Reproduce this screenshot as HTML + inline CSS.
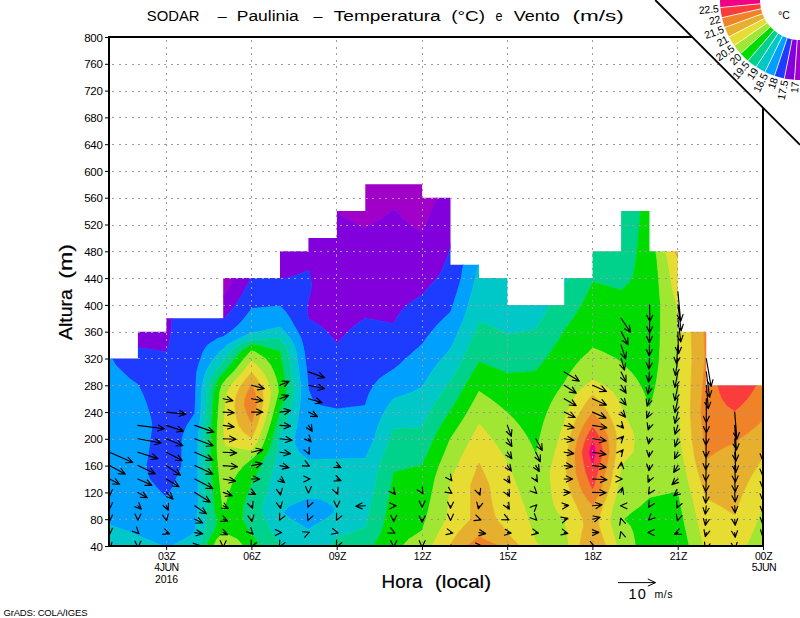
<!DOCTYPE html>
<html><head><meta charset="utf-8"><title>SODAR</title>
<style>
html,body{margin:0;padding:0;background:#fff;}
body{width:800px;height:618px;overflow:hidden;}
svg{display:block;}
text{font-family:"Liberation Sans",sans-serif;fill:#000;}
</style></head><body>
<svg width="800" height="618" viewBox="0 0 800 618">
<rect width="800" height="618" fill="#fff"/>
<defs><clipPath id="m"><path d="M109.5 546.0L109.5 358.5L137.9 358.5L137.9 331.7L166.3 331.7L166.3 318.3L194.8 318.3L194.8 318.3L223.2 318.3L223.2 278.1L251.6 278.1L251.6 278.1L280.0 278.1L280.0 251.3L308.4 251.3L308.4 237.9L336.9 237.9L336.9 211.1L365.3 211.1L365.3 184.3L393.7 184.3L393.7 184.3L422.1 184.3L422.1 197.7L450.5 197.7L450.5 264.7L479.0 264.7L479.0 278.1L507.4 278.1L507.4 304.9L535.8 304.9L535.8 304.9L564.2 304.9L564.2 278.1L592.6 278.1L592.6 251.3L621.1 251.3L621.1 211.1L649.5 211.1L649.5 251.3L677.9 251.3L677.9 331.7L706.3 331.7L706.3 385.3L734.7 385.3L734.7 385.3L763.2 385.3L763.2 546.0Z"/></clipPath>
<clipPath id="pl"><rect x="109" y="37" width="654" height="509"/></clipPath></defs>
<g clip-path="url(#m)">
<path d="M223.2 296.7L226.6 291.5L230.7 284.8L234.6 278.1L234.6 271.4L234.6 264.7L234.6 258.0L234.6 251.3L234.6 244.6L234.6 237.9L234.6 231.2L234.6 224.5L234.6 217.8L234.6 211.1L234.6 204.4L234.6 197.7L234.6 191.0L234.6 184.3L234.6 177.6L234.6 170.9L223.2 170.9L215.2 170.9L215.2 177.6L215.2 184.3L215.2 191.0L215.2 197.7L215.2 204.4L215.2 211.1L215.2 217.8L215.2 224.5L215.2 231.2L215.2 237.9L215.2 244.6L215.2 251.3L215.2 258.0L215.2 264.7L215.2 271.4L215.2 278.1L217.5 284.8L220.3 291.5ZM422.1 232.3L422.7 231.2L425.5 224.5L428.4 217.8L431.2 211.1L434.1 204.4L436.9 197.7L438.1 191.0L439.2 184.3L439.2 177.6L439.2 170.9L422.1 170.9L393.7 170.9L365.3 170.9L336.9 170.9L336.9 170.9L336.9 177.6L336.9 184.3L336.9 191.0L336.9 197.7L336.9 204.4L336.9 211.1L336.9 211.1L344.7 217.8L357.6 224.5L365.3 227.6L371.3 224.5L382.9 217.8L391.1 211.1L393.7 209.4L396.0 211.1L402.4 217.8L410.2 224.5L419.9 231.2Z" fill="#a000c8" stroke="#a000c8" stroke-width="0.7" fill-rule="evenodd"/>
<path d="M166.3 352.2L166.6 351.8L168.8 345.1L170.2 338.4L171.1 331.7L171.6 325.0L172.0 318.3L172.0 311.6L172.0 304.9L172.0 298.2L172.0 291.5L172.0 284.8L172.0 278.1L172.0 271.4L172.0 264.7L172.0 258.0L172.0 251.3L172.0 244.6L172.0 237.9L172.0 231.2L172.0 224.5L172.0 217.8L172.0 211.1L172.0 204.4L172.0 197.7L172.0 191.0L172.0 184.3L172.0 177.6L172.0 170.9L166.3 170.9L137.9 170.9L130.0 170.9L130.0 177.6L130.0 184.3L130.0 191.0L130.0 197.7L130.0 204.4L130.0 211.1L130.0 217.8L130.0 224.5L130.0 231.2L130.0 237.9L130.0 244.6L130.0 251.3L130.0 258.0L130.0 264.7L130.0 271.4L130.0 278.1L130.0 284.8L130.0 291.5L130.0 298.2L130.0 304.9L130.0 311.6L130.0 318.3L130.0 325.0L130.0 331.7L132.5 338.4L135.6 345.1L137.9 347.5L165.7 351.8ZM336.9 343.8L341.5 338.4L347.7 331.7L355.5 325.0L365.3 318.3L393.7 323.5L396.6 318.3L400.8 311.6L407.0 304.9L416.6 298.2L422.1 295.1L425.1 291.5L430.8 284.8L437.3 278.1L441.2 271.4L444.3 264.7L446.9 258.0L449.2 251.3L450.5 247.4L450.9 244.6L452.0 237.9L453.0 231.2L453.9 224.5L454.7 217.8L455.5 211.1L456.3 204.4L457.0 197.7L457.0 191.0L457.0 184.3L457.0 177.6L457.0 170.9L450.5 170.9L439.2 170.9L439.2 177.6L439.2 184.3L438.1 191.0L436.9 197.7L434.1 204.4L431.2 211.1L428.4 217.8L425.5 224.5L422.7 231.2L422.1 232.3L419.9 231.2L410.2 224.5L402.4 217.8L396.0 211.1L393.7 209.4L391.1 211.1L382.9 217.8L371.3 224.5L365.3 227.6L357.6 224.5L344.7 217.8L336.9 211.1L336.9 211.1L336.9 204.4L336.9 197.7L336.9 191.0L336.9 184.3L336.9 177.6L336.9 170.9L308.4 170.9L280.0 170.9L253.4 170.9L253.4 177.6L253.4 184.3L253.4 191.0L253.4 197.7L253.4 204.4L253.4 211.1L253.4 217.8L253.4 224.5L253.4 231.2L253.4 237.9L253.4 244.6L253.4 251.3L253.9 258.0L254.9 264.7L257.3 271.4L272.4 278.1L280.0 278.5L288.1 278.1L306.2 271.4L308.4 270.1L309.1 271.4L310.4 278.1L311.8 284.8L310.7 291.5L309.1 298.2L308.4 299.6L307.6 304.9L307.4 311.6L308.4 318.3L308.4 318.6L319.2 325.0L327.3 331.7L333.0 338.4ZM223.2 319.9L224.9 318.3L230.3 311.6L235.4 304.9L239.8 298.2L243.8 291.5L247.4 284.8L250.9 278.1L250.9 271.4L250.9 264.7L250.9 258.0L250.9 251.3L250.9 244.6L250.9 237.9L250.9 231.2L250.9 224.5L250.9 217.8L250.9 211.1L250.9 204.4L250.9 197.7L250.9 191.0L250.9 184.3L250.9 177.6L250.9 170.9L234.6 170.9L234.6 177.6L234.6 184.3L234.6 191.0L234.6 197.7L234.6 204.4L234.6 211.1L234.6 217.8L234.6 224.5L234.6 231.2L234.6 237.9L234.6 244.6L234.6 251.3L234.6 258.0L234.6 264.7L234.6 271.4L234.6 278.1L230.7 284.8L226.6 291.5L223.2 296.7L220.3 291.5L217.5 284.8L215.2 278.1L215.2 271.4L215.2 264.7L215.2 258.0L215.2 251.3L215.2 244.6L215.2 237.9L215.2 231.2L215.2 224.5L215.2 217.8L215.2 211.1L215.2 204.4L215.2 197.7L215.2 191.0L215.2 184.3L215.2 177.6L215.2 170.9L203.9 170.9L203.9 177.6L203.9 184.3L203.9 191.0L203.9 197.7L203.9 204.4L203.9 211.1L203.9 217.8L203.9 224.5L203.9 231.2L203.9 237.9L203.9 244.6L203.9 251.3L203.9 258.0L203.9 264.7L203.9 271.4L203.9 278.1L204.9 284.8L206.1 291.5L207.8 298.2L210.4 304.9L214.2 311.6L220.4 318.3Z" fill="#8200dc" stroke="#8200dc" stroke-width="0.7" fill-rule="evenodd"/>
<path d="M166.3 497.4L169.8 492.4L173.2 485.7L176.1 479.0L179.4 472.3L181.8 465.6L181.8 458.9L181.9 452.2L181.9 445.5L182.0 438.8L184.2 432.1L187.1 425.4L191.4 418.8L194.8 413.5L194.9 412.1L195.2 405.4L195.6 398.7L195.7 392.0L195.9 385.3L196.2 378.6L196.8 371.9L198.5 365.2L200.8 358.5L203.1 351.8L207.5 345.1L217.7 338.4L223.2 336.7L230.7 331.7L238.3 325.0L244.4 318.3L249.6 311.6L251.6 308.5L280.0 306.0L285.4 311.6L290.0 318.3L293.7 325.0L297.7 331.7L301.0 338.4L302.9 345.1L304.3 351.8L305.1 358.5L306.0 365.2L306.8 371.9L307.5 378.6L308.3 385.3L308.4 389.7L309.5 392.0L312.1 398.7L320.0 405.4L336.9 409.0L365.3 405.4L365.3 405.4L367.3 398.7L370.0 392.0L373.8 385.3L379.6 378.6L389.3 371.9L393.7 369.2L398.7 365.2L406.0 358.5L413.5 351.8L421.3 345.1L422.1 344.3L426.3 338.4L431.5 331.7L437.3 325.0L443.9 318.3L450.5 312.2L450.8 311.6L453.0 304.9L455.2 298.2L457.3 291.5L459.3 284.8L461.2 278.1L462.3 271.4L463.4 264.7L463.8 258.0L464.2 251.3L464.6 244.6L465.2 237.9L465.7 231.2L466.2 224.5L466.6 217.8L467.0 211.1L467.4 204.4L467.8 197.7L467.8 191.0L467.8 184.3L467.8 177.6L467.8 170.9L457.0 170.9L457.0 177.6L457.0 184.3L457.0 191.0L457.0 197.7L456.3 204.4L455.5 211.1L454.7 217.8L453.9 224.5L453.0 231.2L452.0 237.9L450.9 244.6L450.5 247.4L449.2 251.3L446.9 258.0L444.3 264.7L441.2 271.4L437.3 278.1L430.8 284.8L425.1 291.5L422.1 295.1L416.6 298.2L407.0 304.9L400.8 311.6L396.6 318.3L393.7 323.5L365.3 318.3L355.5 325.0L347.7 331.7L341.5 338.4L336.9 343.8L333.0 338.4L327.3 331.7L319.2 325.0L308.4 318.6L308.4 318.3L307.4 311.6L307.6 304.9L308.4 299.6L309.1 298.2L310.7 291.5L311.8 284.8L310.4 278.1L309.1 271.4L308.4 270.1L306.2 271.4L288.1 278.1L280.0 278.5L272.4 278.1L257.3 271.4L254.9 264.7L253.9 258.0L253.4 251.3L253.4 244.6L253.4 237.9L253.4 231.2L253.4 224.5L253.4 217.8L253.4 211.1L253.4 204.4L253.4 197.7L253.4 191.0L253.4 184.3L253.4 177.6L253.4 170.9L251.6 170.9L250.9 170.9L250.9 177.6L250.9 184.3L250.9 191.0L250.9 197.7L250.9 204.4L250.9 211.1L250.9 217.8L250.9 224.5L250.9 231.2L250.9 237.9L250.9 244.6L250.9 251.3L250.9 258.0L250.9 264.7L250.9 271.4L250.9 278.1L247.4 284.8L243.8 291.5L239.8 298.2L235.4 304.9L230.3 311.6L224.9 318.3L223.2 319.9L220.4 318.3L214.2 311.6L210.4 304.9L207.8 298.2L206.1 291.5L204.9 284.8L203.9 278.1L203.9 271.4L203.9 264.7L203.9 258.0L203.9 251.3L203.9 244.6L203.9 237.9L203.9 231.2L203.9 224.5L203.9 217.8L203.9 211.1L203.9 204.4L203.9 197.7L203.9 191.0L203.9 184.3L203.9 177.6L203.9 170.9L194.8 170.9L172.0 170.9L172.0 177.6L172.0 184.3L172.0 191.0L172.0 197.7L172.0 204.4L172.0 211.1L172.0 217.8L172.0 224.5L172.0 231.2L172.0 237.9L172.0 244.6L172.0 251.3L172.0 258.0L172.0 264.7L172.0 271.4L172.0 278.1L172.0 284.8L172.0 291.5L172.0 298.2L172.0 304.9L172.0 311.6L172.0 318.3L171.6 325.0L171.1 331.7L170.2 338.4L168.8 345.1L166.6 351.8L166.3 352.2L165.7 351.8L137.9 347.5L135.6 345.1L132.5 338.4L130.0 331.7L130.0 325.0L130.0 318.3L130.0 311.6L130.0 304.9L130.0 298.2L130.0 291.5L130.0 284.8L130.0 278.1L130.0 271.4L130.0 264.7L130.0 258.0L130.0 251.3L130.0 244.6L130.0 237.9L130.0 231.2L130.0 224.5L130.0 217.8L130.0 211.1L130.0 204.4L130.0 197.7L130.0 191.0L130.0 184.3L130.0 177.6L130.0 170.9L110.3 170.9L110.3 177.6L110.3 184.3L110.3 191.0L110.3 197.7L110.3 204.4L110.3 211.1L110.3 217.8L110.3 224.5L110.3 231.2L110.3 237.9L110.3 244.6L110.3 251.3L110.3 258.0L110.3 264.7L110.3 271.4L110.3 278.1L110.3 284.8L110.3 291.5L110.3 298.2L110.3 304.9L110.3 311.6L110.3 318.3L110.3 325.0L110.3 331.7L110.4 338.4L110.5 345.1L110.8 351.8L111.9 358.5L115.6 365.2L122.4 371.9L129.4 378.6L137.9 384.4L138.3 385.3L141.7 392.0L144.6 398.7L147.0 405.4L149.1 412.1L150.9 418.8L152.0 425.4L151.2 432.1L150.4 438.8L149.5 445.5L148.5 452.2L147.4 458.9L146.1 465.6L147.4 472.3L149.6 479.0L155.1 485.7L161.3 492.4Z" fill="#1e3cff" stroke="#1e3cff" stroke-width="0.7" fill-rule="evenodd"/>
<path d="M166.3 546.0L171.1 546.0L184.4 539.3L194.8 532.6L194.8 532.6L195.8 525.9L196.8 519.2L197.4 512.5L198.0 505.8L198.0 499.1L198.0 492.4L198.0 485.7L197.9 479.0L197.9 472.3L197.9 465.6L197.9 458.9L197.9 452.2L197.9 445.5L197.9 438.8L198.7 432.1L199.4 425.4L200.2 418.8L200.8 412.1L201.1 405.4L201.5 398.7L201.7 392.0L202.4 385.3L203.7 378.6L205.9 371.9L209.3 365.2L213.8 358.5L219.8 351.8L223.2 349.2L227.1 345.1L239.4 338.4L251.6 332.6L258.4 331.7L280.0 327.1L284.4 331.7L290.5 338.4L294.0 345.1L296.3 351.8L297.2 358.5L298.1 365.2L299.0 371.9L299.9 378.6L300.7 385.3L301.0 392.0L300.4 398.7L299.7 405.4L298.9 412.1L298.0 418.8L296.9 425.4L295.4 432.1L294.0 438.8L295.2 445.5L298.9 452.2L307.1 458.9L308.4 460.0L336.4 458.9L336.9 458.9L365.3 458.3L368.1 452.2L371.4 445.5L374.5 438.8L376.2 432.1L378.2 425.4L381.0 418.8L384.3 412.1L388.4 405.4L393.7 398.7L393.7 398.7L412.7 392.0L422.1 387.2L423.2 385.3L427.3 378.6L431.7 371.9L436.5 365.2L441.9 358.5L447.9 351.8L450.5 348.9L452.4 345.1L455.4 338.4L458.4 331.7L461.3 325.0L464.0 318.3L466.2 311.6L468.2 304.9L470.1 298.2L471.9 291.5L473.6 284.8L475.3 278.1L476.8 271.4L478.4 264.7L478.4 258.0L478.4 251.3L478.4 244.6L478.4 237.9L478.5 231.2L478.5 224.5L478.5 217.8L478.5 211.1L478.5 204.4L478.5 197.7L478.5 191.0L478.5 184.3L478.5 177.6L478.5 170.9L467.8 170.9L467.8 177.6L467.8 184.3L467.8 191.0L467.8 197.7L467.4 204.4L467.0 211.1L466.6 217.8L466.2 224.5L465.7 231.2L465.2 237.9L464.6 244.6L464.2 251.3L463.8 258.0L463.4 264.7L462.3 271.4L461.2 278.1L459.3 284.8L457.3 291.5L455.2 298.2L453.0 304.9L450.8 311.6L450.5 312.2L443.9 318.3L437.3 325.0L431.5 331.7L426.3 338.4L422.1 344.3L421.3 345.1L413.5 351.8L406.0 358.5L398.7 365.2L393.7 369.2L389.3 371.9L379.6 378.6L373.8 385.3L370.0 392.0L367.3 398.7L365.3 405.4L365.3 405.4L336.9 409.0L320.0 405.4L312.1 398.7L309.5 392.0L308.4 389.7L308.3 385.3L307.5 378.6L306.8 371.9L306.0 365.2L305.1 358.5L304.3 351.8L302.9 345.1L301.0 338.4L297.7 331.7L293.7 325.0L290.0 318.3L285.4 311.6L280.0 306.0L251.6 308.5L249.6 311.6L244.4 318.3L238.3 325.0L230.7 331.7L223.2 336.7L217.7 338.4L207.5 345.1L203.1 351.8L200.8 358.5L198.5 365.2L196.8 371.9L196.2 378.6L195.9 385.3L195.7 392.0L195.6 398.7L195.2 405.4L194.9 412.1L194.8 413.5L191.4 418.8L187.1 425.4L184.2 432.1L182.0 438.8L181.9 445.5L181.9 452.2L181.8 458.9L181.8 465.6L179.4 472.3L176.1 479.0L173.2 485.7L169.8 492.4L166.3 497.4L161.3 492.4L155.1 485.7L149.6 479.0L147.4 472.3L146.1 465.6L147.4 458.9L148.5 452.2L149.5 445.5L150.4 438.8L151.2 432.1L152.0 425.4L150.9 418.8L149.1 412.1L147.0 405.4L144.6 398.7L141.7 392.0L138.3 385.3L137.9 384.4L129.4 378.6L122.4 371.9L115.6 365.2L111.9 358.5L110.8 351.8L110.5 345.1L110.4 338.4L110.3 331.7L110.3 325.0L110.3 318.3L110.3 311.6L110.3 304.9L110.3 298.2L110.3 291.5L110.3 284.8L110.3 278.1L110.3 271.4L110.3 264.7L110.3 258.0L110.3 251.3L110.3 244.6L110.3 237.9L110.3 231.2L110.3 224.5L110.3 217.8L110.3 211.1L110.3 204.4L110.3 197.7L110.3 191.0L110.3 184.3L110.3 177.6L110.3 170.9L109.5 170.9L109.5 177.6L109.5 184.3L109.5 191.0L109.5 197.7L109.5 204.4L109.5 211.1L109.5 217.8L109.5 224.5L109.5 231.2L109.5 237.9L109.5 244.6L109.5 251.3L109.5 258.0L109.5 264.7L109.5 271.4L109.5 278.1L109.5 284.8L109.5 291.5L109.5 298.2L109.5 304.9L109.5 311.6L109.5 318.3L109.5 325.0L109.5 331.7L109.5 338.4L109.5 345.1L109.5 351.8L109.5 358.5L109.5 365.2L109.5 371.9L109.5 378.6L109.5 385.3L109.5 392.0L109.5 398.7L109.5 405.4L109.5 412.1L109.5 418.8L109.5 425.4L109.5 432.1L109.5 438.8L109.5 445.5L109.5 452.2L109.5 458.9L109.5 465.6L109.5 472.3L109.5 479.0L109.5 485.7L109.5 492.4L109.5 499.1L109.5 505.8L109.5 512.5L109.5 519.2L109.5 523.8L112.2 525.9L131.0 532.6L137.9 535.4L146.9 539.3L162.8 546.0ZM308.4 529.8L313.4 525.9L325.4 519.2L334.7 512.5L333.4 505.8L320.7 499.1L308.4 498.3L305.4 499.1L289.4 505.8L283.0 512.5L291.2 519.2L302.6 525.9Z" fill="#00a0ff" stroke="#00a0ff" stroke-width="0.7" fill-rule="evenodd"/>
<path d="M137.9 546.0L162.8 546.0L146.9 539.3L137.9 535.4L131.0 532.6L112.2 525.9L109.5 523.8L109.5 525.9L109.5 532.6L109.5 539.3L109.5 546.0ZM194.8 546.0L200.2 546.0L201.6 539.3L204.2 532.6L206.0 525.9L206.8 519.2L206.2 512.5L206.2 505.8L205.9 499.1L205.6 492.4L205.4 485.7L205.1 479.0L204.9 472.3L204.7 465.6L204.5 458.9L204.3 452.2L204.3 445.5L204.3 438.8L204.9 432.1L205.4 425.4L206.1 418.8L206.6 412.1L207.0 405.4L207.4 398.7L207.8 392.0L208.9 385.3L211.1 378.6L215.1 371.9L220.2 365.2L223.2 361.9L225.8 358.5L230.9 351.8L238.7 345.1L251.6 339.9L280.0 338.4L285.0 345.1L288.3 351.8L289.3 358.5L290.3 365.2L291.3 371.9L292.3 378.6L293.2 385.3L293.5 392.0L292.2 398.7L290.7 405.4L288.9 412.1L286.9 418.8L284.4 425.4L281.2 432.1L280.0 434.8L279.2 438.8L277.7 445.5L276.8 452.2L275.0 458.9L273.7 465.6L272.0 472.3L270.0 479.0L268.0 485.7L266.3 492.4L264.5 499.1L262.5 505.8L262.4 512.5L265.0 519.2L268.4 525.9L272.2 532.6L276.8 539.3L280.0 544.1L282.6 546.0L308.4 546.0L329.8 546.0L334.9 539.3L336.9 537.7L351.8 532.6L365.3 527.2L365.9 525.9L367.5 519.2L369.1 512.5L370.6 505.8L372.1 499.1L373.5 492.4L375.0 485.7L376.4 479.0L377.8 472.3L379.8 465.6L381.9 458.9L384.7 452.2L387.4 445.5L390.0 438.8L392.2 432.1L393.7 428.8L422.1 428.0L423.3 425.4L426.4 418.8L429.9 412.1L433.6 405.4L437.7 398.7L442.3 392.0L447.3 385.3L450.5 381.1L452.0 378.6L455.7 371.9L459.5 365.2L463.1 358.5L466.3 351.8L469.3 345.1L472.2 338.4L475.1 331.7L477.9 325.0L479.0 321.6L489.3 325.0L502.5 331.7L507.4 334.8L521.5 331.7L535.8 329.4L538.5 325.0L542.4 318.3L546.4 311.6L550.3 304.9L552.7 298.2L555.9 291.5L560.8 284.8L564.2 283.6L571.1 278.1L571.6 271.4L572.2 264.7L572.9 258.0L573.7 251.3L573.7 244.6L573.7 237.9L573.7 231.2L573.7 224.5L573.7 217.8L573.7 211.1L573.7 204.4L573.7 197.7L573.7 191.0L573.7 184.3L573.7 177.6L573.7 170.9L564.2 170.9L535.8 170.9L507.4 170.9L479.0 170.9L478.5 170.9L478.5 177.6L478.5 184.3L478.5 191.0L478.5 197.7L478.5 204.4L478.5 211.1L478.5 217.8L478.5 224.5L478.5 231.2L478.4 237.9L478.4 244.6L478.4 251.3L478.4 258.0L478.4 264.7L476.8 271.4L475.3 278.1L473.6 284.8L471.9 291.5L470.1 298.2L468.2 304.9L466.2 311.6L464.0 318.3L461.3 325.0L458.4 331.7L455.4 338.4L452.4 345.1L450.5 348.9L447.9 351.8L441.9 358.5L436.5 365.2L431.7 371.9L427.3 378.6L423.2 385.3L422.1 387.2L412.7 392.0L393.7 398.7L393.7 398.7L388.4 405.4L384.3 412.1L381.0 418.8L378.2 425.4L376.2 432.1L374.5 438.8L371.4 445.5L368.1 452.2L365.3 458.3L336.9 458.9L336.4 458.9L308.4 460.0L307.1 458.9L298.9 452.2L295.2 445.5L294.0 438.8L295.4 432.1L296.9 425.4L298.0 418.8L298.9 412.1L299.7 405.4L300.4 398.7L301.0 392.0L300.7 385.3L299.9 378.6L299.0 371.9L298.1 365.2L297.2 358.5L296.3 351.8L294.0 345.1L290.5 338.4L284.4 331.7L280.0 327.1L258.4 331.7L251.6 332.6L239.4 338.4L227.1 345.1L223.2 349.2L219.8 351.8L213.8 358.5L209.3 365.2L205.9 371.9L203.7 378.6L202.4 385.3L201.7 392.0L201.5 398.7L201.1 405.4L200.8 412.1L200.2 418.8L199.4 425.4L198.7 432.1L197.9 438.8L197.9 445.5L197.9 452.2L197.9 458.9L197.9 465.6L197.9 472.3L197.9 479.0L198.0 485.7L198.0 492.4L198.0 499.1L198.0 505.8L197.4 512.5L196.8 519.2L195.8 525.9L194.8 532.6L194.8 532.6L184.4 539.3L171.1 546.0ZM302.6 525.9L291.2 519.2L283.0 512.5L289.4 505.8L305.4 499.1L308.4 498.3L320.7 499.1L333.4 505.8L334.7 512.5L325.4 519.2L313.4 525.9L308.4 529.8Z" fill="#00c8c8" stroke="#00c8c8" stroke-width="0.7" fill-rule="evenodd"/>
<path d="M209.2 539.3L213.7 532.6L216.2 525.9L216.9 519.2L215.0 512.5L214.3 505.8L213.8 499.1L213.3 492.4L212.8 485.7L212.3 479.0L211.9 472.3L211.5 465.6L211.1 458.9L210.7 452.2L210.7 445.5L210.7 438.8L211.1 432.1L211.4 425.4L212.0 418.8L212.5 412.1L212.8 405.4L213.4 398.7L213.8 392.0L215.4 385.3L218.6 378.6L223.2 373.0L224.3 371.9L229.9 365.2L235.1 358.5L240.6 351.8L250.3 345.1L251.6 344.6L257.3 345.1L280.0 351.4L280.2 351.8L281.4 358.5L282.5 365.2L283.6 371.9L284.6 378.6L285.6 385.3L286.0 392.0L284.0 398.7L281.7 405.4L280.0 409.6L279.4 412.1L277.7 418.8L275.9 425.4L274.0 432.1L272.2 438.8L270.1 445.5L267.9 452.2L263.3 458.9L260.8 465.6L257.7 472.3L253.9 479.0L251.6 483.6L250.4 485.7L247.9 492.4L245.6 499.1L243.3 505.8L242.8 512.5L242.5 519.2L246.1 525.9L250.5 532.6L251.6 533.9L255.2 539.3L260.1 546.0L280.0 546.0L282.6 546.0L280.0 544.1L276.8 539.3L272.2 532.6L268.4 525.9L265.0 519.2L262.4 512.5L262.5 505.8L264.5 499.1L266.3 492.4L268.0 485.7L270.0 479.0L272.0 472.3L273.7 465.6L275.0 458.9L276.8 452.2L277.7 445.5L279.2 438.8L280.0 434.8L281.2 432.1L284.4 425.4L286.9 418.8L288.9 412.1L290.7 405.4L292.2 398.7L293.5 392.0L293.2 385.3L292.3 378.6L291.3 371.9L290.3 365.2L289.3 358.5L288.3 351.8L285.0 345.1L280.0 338.4L251.6 339.9L238.7 345.1L230.9 351.8L225.8 358.5L223.2 361.9L220.2 365.2L215.1 371.9L211.1 378.6L208.9 385.3L207.8 392.0L207.4 398.7L207.0 405.4L206.6 412.1L206.1 418.8L205.4 425.4L204.9 432.1L204.3 438.8L204.3 445.5L204.3 452.2L204.5 458.9L204.7 465.6L204.9 472.3L205.1 479.0L205.4 485.7L205.6 492.4L205.9 499.1L206.2 505.8L206.2 512.5L206.8 519.2L206.0 525.9L204.2 532.6L201.6 539.3L200.2 546.0L206.9 546.0ZM336.9 546.0L365.3 546.0L373.0 546.0L377.7 539.3L381.2 532.6L383.4 525.9L384.7 519.2L386.1 512.5L387.5 505.8L388.8 499.1L390.1 492.4L391.3 485.7L392.5 479.0L393.7 472.3L393.7 472.3L420.3 465.6L422.1 465.2L424.9 458.9L428.0 452.2L430.9 445.5L433.8 438.8L437.3 432.1L441.0 425.4L445.1 418.8L449.6 412.1L450.5 410.6L453.7 405.4L457.7 398.7L461.5 392.0L465.4 385.3L469.3 378.6L473.2 371.9L477.3 365.2L479.0 361.9L487.5 365.2L504.5 371.9L507.4 373.3L527.2 371.9L535.8 371.1L540.5 365.2L545.9 358.5L550.9 351.8L555.4 345.1L559.6 338.4L563.5 331.7L564.2 330.4L568.4 325.0L573.1 318.3L577.5 311.6L581.4 304.9L585.0 298.2L588.4 291.5L591.5 284.8L592.6 281.9L602.9 284.8L621.1 290.1L627.3 284.8L632.4 278.1L634.1 271.4L635.3 264.7L636.2 258.0L636.8 251.3L637.6 244.6L638.2 237.9L638.8 231.2L639.4 224.5L639.9 217.8L640.4 211.1L640.4 204.4L640.4 197.7L640.4 191.0L640.4 184.3L640.4 177.6L640.4 170.9L621.1 170.9L592.6 170.9L573.7 170.9L573.7 177.6L573.7 184.3L573.7 191.0L573.7 197.7L573.7 204.4L573.7 211.1L573.7 217.8L573.7 224.5L573.7 231.2L573.7 237.9L573.7 244.6L573.7 251.3L572.9 258.0L572.2 264.7L571.6 271.4L571.1 278.1L564.2 283.6L560.8 284.8L555.9 291.5L552.7 298.2L550.3 304.9L546.4 311.6L542.4 318.3L538.5 325.0L535.8 329.4L521.5 331.7L507.4 334.8L502.5 331.7L489.3 325.0L479.0 321.6L477.9 325.0L475.1 331.7L472.2 338.4L469.3 345.1L466.3 351.8L463.1 358.5L459.5 365.2L455.7 371.9L452.0 378.6L450.5 381.1L447.3 385.3L442.3 392.0L437.7 398.7L433.6 405.4L429.9 412.1L426.4 418.8L423.3 425.4L422.1 428.0L393.7 428.8L392.2 432.1L390.0 438.8L387.4 445.5L384.7 452.2L381.9 458.9L379.8 465.6L377.8 472.3L376.4 479.0L375.0 485.7L373.5 492.4L372.1 499.1L370.6 505.8L369.1 512.5L367.5 519.2L365.9 525.9L365.3 527.2L351.8 532.6L336.9 537.7L334.9 539.3L329.8 546.0Z" fill="#00d28c" stroke="#00d28c" stroke-width="0.7" fill-rule="evenodd"/>
<path d="M216.8 539.3L223.2 532.6L237.4 539.3L243.1 546.0L251.6 546.0L260.1 546.0L255.2 539.3L251.6 533.9L250.5 532.6L246.1 525.9L242.5 519.2L242.8 512.5L243.3 505.8L245.6 499.1L247.9 492.4L250.4 485.7L251.6 483.6L253.9 479.0L257.7 472.3L260.8 465.6L263.3 458.9L267.9 452.2L270.1 445.5L272.2 438.8L274.0 432.1L275.9 425.4L277.7 418.8L279.4 412.1L280.0 409.6L281.7 405.4L284.0 398.7L286.0 392.0L285.6 385.3L284.6 378.6L283.6 371.9L282.5 365.2L281.4 358.5L280.2 351.8L280.0 351.4L257.3 345.1L251.6 344.6L250.3 345.1L240.6 351.8L235.1 358.5L229.9 365.2L224.3 371.9L223.2 373.0L218.6 378.6L215.4 385.3L213.8 392.0L213.4 398.7L212.8 405.4L212.5 412.1L212.0 418.8L211.4 425.4L211.1 432.1L210.7 438.8L210.7 445.5L210.7 452.2L211.1 458.9L211.5 465.6L211.9 472.3L212.3 479.0L212.8 485.7L213.3 492.4L213.8 499.1L214.3 505.8L215.0 512.5L216.9 519.2L216.2 525.9L213.7 532.6L209.2 539.3L206.9 546.0L213.7 546.0ZM222.5 505.8L221.7 499.1L220.9 492.4L220.2 485.7L219.5 479.0L218.9 472.3L218.3 465.6L217.7 458.9L217.2 452.2L217.0 445.5L217.1 438.8L217.2 432.1L217.4 425.4L217.9 418.8L218.3 412.1L218.7 405.4L219.3 398.7L219.8 392.0L221.8 385.3L223.2 382.9L226.9 378.6L233.6 371.9L239.0 365.2L244.4 358.5L250.3 351.8L251.6 350.9L254.9 351.8L265.3 358.5L270.6 365.2L273.8 371.9L276.2 378.6L277.8 385.3L278.4 392.0L276.6 398.7L275.0 405.4L273.2 412.1L271.5 418.8L269.6 425.4L267.4 432.1L265.2 438.8L262.5 445.5L259.0 452.2L251.6 458.9L251.6 458.9L243.5 465.6L237.9 472.3L233.7 479.0L231.0 485.7L228.8 492.4L226.8 499.1L224.7 505.8L223.2 509.7ZM393.7 546.0L402.6 546.0L408.7 539.3L419.1 532.6L422.1 530.4L423.6 525.9L425.9 519.2L427.7 512.5L429.3 505.8L430.8 499.1L432.2 492.4L433.5 485.7L434.9 479.0L437.0 472.3L439.3 465.6L442.1 458.9L444.9 452.2L447.6 445.5L450.3 438.8L450.5 438.4L454.9 432.1L459.3 425.4L463.6 418.8L467.6 412.1L471.4 405.4L475.1 398.7L478.6 392.0L479.0 391.4L480.0 392.0L490.0 398.7L498.8 405.4L506.6 412.1L507.4 412.9L513.6 418.8L519.3 425.4L524.1 432.1L528.2 438.8L531.7 445.5L534.7 452.2L535.8 455.0L536.4 452.2L537.9 445.5L539.5 438.8L541.2 432.1L542.9 425.4L544.9 418.8L547.4 412.1L550.2 405.4L553.6 398.7L557.7 392.0L562.5 385.3L564.2 382.8L566.7 378.6L570.8 371.9L575.8 365.2L581.7 358.5L589.1 351.8L592.6 347.9L602.5 351.8L615.9 358.5L621.1 362.4L623.8 365.2L630.9 371.9L636.2 378.6L640.3 385.3L643.6 392.0L646.2 398.7L648.5 405.4L649.5 408.0L650.6 405.4L652.6 398.7L654.2 392.0L655.7 385.3L656.9 378.6L657.8 371.9L658.7 365.2L659.5 358.5L659.7 351.8L660.0 345.1L660.2 338.4L660.4 331.7L660.4 325.0L660.4 318.3L660.5 311.6L660.7 304.9L660.0 298.2L659.5 291.5L659.0 284.8L658.6 278.1L658.0 271.4L657.4 264.7L656.8 258.0L655.8 251.3L655.8 244.6L655.9 237.9L655.9 231.2L655.9 224.5L656.0 217.8L656.0 211.1L656.0 204.4L656.0 197.7L656.0 191.0L656.0 184.3L656.0 177.6L656.0 170.9L649.5 170.9L640.4 170.9L640.4 177.6L640.4 184.3L640.4 191.0L640.4 197.7L640.4 204.4L640.4 211.1L639.9 217.8L639.4 224.5L638.8 231.2L638.2 237.9L637.6 244.6L636.8 251.3L636.2 258.0L635.3 264.7L634.1 271.4L632.4 278.1L627.3 284.8L621.1 290.1L602.9 284.8L592.6 281.9L591.5 284.8L588.4 291.5L585.0 298.2L581.4 304.9L577.5 311.6L573.1 318.3L568.4 325.0L564.2 330.4L563.5 331.7L559.6 338.4L555.4 345.1L550.9 351.8L545.9 358.5L540.5 365.2L535.8 371.1L527.2 371.9L507.4 373.3L504.5 371.9L487.5 365.2L479.0 361.9L477.3 365.2L473.2 371.9L469.3 378.6L465.4 385.3L461.5 392.0L457.7 398.7L453.7 405.4L450.5 410.6L449.6 412.1L445.1 418.8L441.0 425.4L437.3 432.1L433.8 438.8L430.9 445.5L428.0 452.2L424.9 458.9L422.1 465.2L420.3 465.6L393.7 472.3L393.7 472.3L392.5 479.0L391.3 485.7L390.1 492.4L388.8 499.1L387.5 505.8L386.1 512.5L384.7 519.2L383.4 525.9L381.2 532.6L377.7 539.3L373.0 546.0ZM649.5 546.0L677.9 546.0L689.3 546.0L687.8 539.3L686.4 532.6L684.9 525.9L683.6 519.2L682.2 512.5L680.8 505.8L679.5 499.1L678.2 492.4L677.9 491.1L671.9 492.4L649.5 497.4L647.7 499.1L640.6 505.8L631.2 512.5L623.8 519.2L630.3 525.9L633.0 532.6L634.4 539.3L635.3 546.0Z" fill="#00dc00" stroke="#00dc00" stroke-width="0.7" fill-rule="evenodd"/>
<path d="M223.2 541.3L228.9 546.0L243.1 546.0L237.4 539.3L223.2 532.6L216.8 539.3L213.7 546.0L220.5 546.0ZM422.1 546.0L432.1 546.0L435.5 539.3L439.0 532.6L442.5 525.9L446.4 519.2L447.3 512.5L448.1 505.8L448.8 499.1L449.5 492.4L450.1 485.7L450.5 482.6L451.2 479.0L454.5 472.3L457.6 465.6L460.7 458.9L464.0 452.2L467.5 445.5L471.0 438.8L474.8 432.1L478.3 425.4L479.0 424.3L480.2 425.4L486.2 432.1L491.6 438.8L496.5 445.5L501.0 452.2L505.1 458.9L507.4 463.5L508.5 465.6L511.3 472.3L514.0 479.0L516.6 485.7L519.2 492.4L521.6 499.1L523.9 505.8L526.2 512.5L528.4 519.2L530.6 525.9L532.6 532.6L534.8 539.3L535.8 541.7L540.5 546.0L564.2 546.0L568.6 546.0L568.1 539.3L567.2 532.6L566.1 525.9L564.4 519.2L564.2 518.6L557.7 512.5L554.5 505.8L552.8 499.1L551.7 492.4L551.0 485.7L550.4 479.0L550.0 472.3L551.7 465.6L553.4 458.9L555.2 452.2L557.1 445.5L559.0 438.8L561.0 432.1L563.1 425.4L564.2 422.9L565.2 418.8L567.5 412.1L570.3 405.4L573.6 398.7L578.2 392.0L585.8 385.3L592.6 380.0L603.4 385.3L612.6 392.0L617.3 398.7L620.5 405.4L621.1 407.0L623.6 412.1L626.7 418.8L629.7 425.4L632.8 432.1L634.3 438.8L633.8 445.5L633.0 452.2L626.8 458.9L621.1 464.9L621.0 465.6L620.1 472.3L619.1 479.0L618.0 485.7L616.8 492.4L615.1 499.1L613.1 505.8L611.4 512.5L610.0 519.2L611.0 525.9L613.0 532.6L614.8 539.3L616.7 546.0L621.1 546.0L635.3 546.0L634.4 539.3L633.0 532.6L630.3 525.9L623.8 519.2L631.2 512.5L640.6 505.8L647.7 499.1L649.5 497.4L671.9 492.4L677.9 491.1L678.2 492.4L679.5 499.1L680.8 505.8L682.2 512.5L683.6 519.2L684.9 525.9L686.4 532.6L687.8 539.3L689.3 546.0L703.5 546.0L701.9 539.3L700.4 532.6L698.8 525.9L697.3 519.2L695.9 512.5L694.4 505.8L693.0 499.1L691.2 492.4L689.5 485.7L687.9 479.0L686.4 472.3L685.0 465.6L683.7 458.9L682.5 452.2L681.4 445.5L680.3 438.8L680.1 432.1L679.9 425.4L679.8 418.8L679.6 412.1L679.5 405.4L679.5 398.7L679.4 392.0L679.3 385.3L679.2 378.6L679.1 371.9L679.0 365.2L678.9 358.5L678.8 351.8L678.7 345.1L678.5 338.4L678.4 331.7L677.9 325.0L677.9 325.0L677.2 318.3L676.9 311.6L676.6 304.9L674.8 298.2L673.2 291.5L671.8 284.8L670.6 278.1L669.4 271.4L668.4 264.7L667.4 258.0L665.0 251.3L665.0 244.6L665.0 237.9L665.1 231.2L665.1 224.5L665.1 217.8L665.1 211.1L665.1 204.4L665.1 197.7L665.1 191.0L665.1 184.3L665.1 177.6L665.1 170.9L656.0 170.9L656.0 177.6L656.0 184.3L656.0 191.0L656.0 197.7L656.0 204.4L656.0 211.1L656.0 217.8L655.9 224.5L655.9 231.2L655.9 237.9L655.8 244.6L655.8 251.3L656.8 258.0L657.4 264.7L658.0 271.4L658.6 278.1L659.0 284.8L659.5 291.5L660.0 298.2L660.7 304.9L660.5 311.6L660.4 318.3L660.4 325.0L660.4 331.7L660.2 338.4L660.0 345.1L659.7 351.8L659.5 358.5L658.7 365.2L657.8 371.9L656.9 378.6L655.7 385.3L654.2 392.0L652.6 398.7L650.6 405.4L649.5 408.0L648.5 405.4L646.2 398.7L643.6 392.0L640.3 385.3L636.2 378.6L630.9 371.9L623.8 365.2L621.1 362.4L615.9 358.5L602.5 351.8L592.6 347.9L589.1 351.8L581.7 358.5L575.8 365.2L570.8 371.9L566.7 378.6L564.2 382.8L562.5 385.3L557.7 392.0L553.6 398.7L550.2 405.4L547.4 412.1L544.9 418.8L542.9 425.4L541.2 432.1L539.5 438.8L537.9 445.5L536.4 452.2L535.8 455.0L534.7 452.2L531.7 445.5L528.2 438.8L524.1 432.1L519.3 425.4L513.6 418.8L507.4 412.9L506.6 412.1L498.8 405.4L490.0 398.7L480.0 392.0L479.0 391.4L478.6 392.0L475.1 398.7L471.4 405.4L467.6 412.1L463.6 418.8L459.3 425.4L454.9 432.1L450.5 438.4L450.3 438.8L447.6 445.5L444.9 452.2L442.1 458.9L439.3 465.6L437.0 472.3L434.9 479.0L433.5 485.7L432.2 492.4L430.8 499.1L429.3 505.8L427.7 512.5L425.9 519.2L423.6 525.9L422.1 530.4L419.1 532.6L408.7 539.3L402.6 546.0ZM763.2 546.0L763.2 539.3L763.2 532.6L763.2 525.9L763.2 519.2L763.2 512.5L763.2 505.8L763.2 504.9L762.7 505.8L760.3 512.5L757.8 519.2L755.2 525.9L752.3 532.6L749.3 539.3L746.1 546.0ZM223.2 509.7L224.7 505.8L226.8 499.1L228.8 492.4L231.0 485.7L233.7 479.0L237.9 472.3L243.5 465.6L251.6 458.9L251.6 458.9L259.0 452.2L262.5 445.5L265.2 438.8L267.4 432.1L269.6 425.4L271.5 418.8L273.2 412.1L275.0 405.4L276.6 398.7L278.4 392.0L277.8 385.3L276.2 378.6L273.8 371.9L270.6 365.2L265.3 358.5L254.9 351.8L251.6 350.9L250.3 351.8L244.4 358.5L239.0 365.2L233.6 371.9L226.9 378.6L223.2 382.9L221.8 385.3L219.8 392.0L219.3 398.7L218.7 405.4L218.3 412.1L217.9 418.8L217.4 425.4L217.2 432.1L217.1 438.8L217.0 445.5L217.2 452.2L217.7 458.9L218.3 465.6L218.9 472.3L219.5 479.0L220.2 485.7L220.9 492.4L221.7 499.1L222.5 505.8ZM225.6 445.5L224.3 438.8L224.0 432.1L223.8 425.4L224.4 418.8L225.0 412.1L225.5 405.4L226.3 398.7L227.6 392.0L231.1 385.3L236.7 378.6L242.9 371.9L248.2 365.2L251.6 361.0L256.7 365.2L262.4 371.9L266.4 378.6L269.3 385.3L270.5 392.0L269.9 398.7L268.7 405.4L267.0 412.1L265.2 418.8L263.3 425.4L260.9 432.1L258.2 438.8L254.8 445.5L251.6 450.3Z" fill="#a0e632" stroke="#a0e632" stroke-width="0.7" fill-rule="evenodd"/>
<path d="M223.2 546.0L228.9 546.0L223.2 541.3L220.5 546.0ZM450.5 544.5L453.6 539.3L458.3 532.6L464.2 525.9L470.5 519.2L470.5 512.5L470.6 505.8L470.6 499.1L470.6 492.4L470.7 485.7L472.8 479.0L475.4 472.3L477.8 465.6L479.0 463.0L480.6 465.6L483.6 472.3L486.6 479.0L489.4 485.7L490.2 492.4L491.2 499.1L492.4 505.8L494.0 512.5L496.1 519.2L502.5 525.9L506.3 532.6L507.4 533.4L513.1 539.3L519.7 546.0L535.8 546.0L540.5 546.0L535.8 541.7L534.8 539.3L532.6 532.6L530.6 525.9L528.4 519.2L526.2 512.5L523.9 505.8L521.6 499.1L519.2 492.4L516.6 485.7L514.0 479.0L511.3 472.3L508.5 465.6L507.4 463.5L505.1 458.9L501.0 452.2L496.5 445.5L491.6 438.8L486.2 432.1L480.2 425.4L479.0 424.3L478.3 425.4L474.8 432.1L471.0 438.8L467.5 445.5L464.0 452.2L460.7 458.9L457.6 465.6L454.5 472.3L451.2 479.0L450.5 482.6L450.1 485.7L449.5 492.4L448.8 499.1L448.1 505.8L447.3 512.5L446.4 519.2L442.5 525.9L439.0 532.6L435.5 539.3L432.1 546.0L449.8 546.0ZM580.8 539.3L582.0 532.6L583.7 525.9L583.0 519.2L579.7 512.5L576.8 505.8L573.4 499.1L570.8 492.4L569.0 485.7L567.5 479.0L566.2 472.3L566.9 465.6L567.4 458.9L567.9 452.2L568.9 445.5L570.0 438.8L571.6 432.1L573.7 425.4L576.5 418.8L580.3 412.1L584.3 405.4L589.2 398.7L592.6 395.1L597.1 398.7L603.0 405.4L607.3 412.1L610.9 418.8L613.6 425.4L615.6 432.1L616.5 438.8L616.2 445.5L615.9 452.2L614.9 458.9L613.8 465.6L612.6 472.3L611.4 479.0L610.0 485.7L608.2 492.4L605.7 499.1L602.8 505.8L600.7 512.5L598.5 519.2L598.8 525.9L601.2 532.6L603.4 539.3L605.8 546.0L616.7 546.0L614.8 539.3L613.0 532.6L611.0 525.9L610.0 519.2L611.4 512.5L613.1 505.8L615.1 499.1L616.8 492.4L618.0 485.7L619.1 479.0L620.1 472.3L621.0 465.6L621.1 464.9L626.8 458.9L633.0 452.2L633.8 445.5L634.3 438.8L632.8 432.1L629.7 425.4L626.7 418.8L623.6 412.1L621.1 407.0L620.5 405.4L617.3 398.7L612.6 392.0L603.4 385.3L592.6 380.0L585.8 385.3L578.2 392.0L573.6 398.7L570.3 405.4L567.5 412.1L565.2 418.8L564.2 422.9L563.1 425.4L561.0 432.1L559.0 438.8L557.1 445.5L555.2 452.2L553.4 458.9L551.7 465.6L550.0 472.3L550.4 479.0L551.0 485.7L551.7 492.4L552.8 499.1L554.5 505.8L557.7 512.5L564.2 518.6L564.4 519.2L566.1 525.9L567.2 532.6L568.1 539.3L568.6 546.0L579.5 546.0ZM706.3 546.0L734.7 546.0L746.1 546.0L749.3 539.3L752.3 532.6L755.2 525.9L757.8 519.2L760.3 512.5L762.7 505.8L763.2 504.9L763.2 499.1L763.2 492.4L763.2 485.7L763.2 479.0L763.2 472.3L763.2 465.6L763.2 458.9L763.2 458.4L762.6 458.9L757.8 465.6L753.5 472.3L749.6 479.0L746.2 485.7L743.2 492.4L740.4 499.1L737.9 505.8L735.6 512.5L734.7 514.7L730.9 512.5L720.3 505.8L707.7 499.1L706.3 498.7L704.3 492.4L702.2 485.7L700.3 479.0L698.4 472.3L696.6 465.6L695.0 458.9L694.0 452.2L693.0 445.5L692.0 438.8L691.6 432.1L691.1 425.4L690.7 418.8L690.3 412.1L690.5 405.4L690.7 398.7L690.8 392.0L691.1 385.3L691.3 378.6L691.5 371.9L691.7 365.2L692.0 358.5L691.8 351.8L691.6 345.1L691.4 338.4L691.2 331.7L690.9 325.0L690.6 318.3L690.5 311.6L690.4 304.9L689.3 298.2L688.1 291.5L686.7 284.8L685.0 278.1L683.1 271.4L680.7 264.7L677.9 258.0L677.9 258.0L674.2 251.3L674.2 244.6L674.2 237.9L674.2 231.2L674.2 224.5L674.2 217.8L674.3 211.1L674.3 204.4L674.3 197.7L674.3 191.0L674.3 184.3L674.3 177.6L674.3 170.9L665.1 170.9L665.1 177.6L665.1 184.3L665.1 191.0L665.1 197.7L665.1 204.4L665.1 211.1L665.1 217.8L665.1 224.5L665.1 231.2L665.0 237.9L665.0 244.6L665.0 251.3L667.4 258.0L668.4 264.7L669.4 271.4L670.6 278.1L671.8 284.8L673.2 291.5L674.8 298.2L676.6 304.9L676.9 311.6L677.2 318.3L677.9 325.0L677.9 325.0L678.4 331.7L678.5 338.4L678.7 345.1L678.8 351.8L678.9 358.5L679.0 365.2L679.1 371.9L679.2 378.6L679.3 385.3L679.4 392.0L679.5 398.7L679.5 405.4L679.6 412.1L679.8 418.8L679.9 425.4L680.1 432.1L680.3 438.8L681.4 445.5L682.5 452.2L683.7 458.9L685.0 465.6L686.4 472.3L687.9 479.0L689.5 485.7L691.2 492.4L693.0 499.1L694.4 505.8L695.9 512.5L697.3 519.2L698.8 525.9L700.4 532.6L701.9 539.3L703.5 546.0ZM251.6 450.3L254.8 445.5L258.2 438.8L260.9 432.1L263.3 425.4L265.2 418.8L267.0 412.1L268.7 405.4L269.9 398.7L270.5 392.0L269.3 385.3L266.4 378.6L262.4 371.9L256.7 365.2L251.6 361.0L248.2 365.2L242.9 371.9L236.7 378.6L231.1 385.3L227.6 392.0L226.3 398.7L225.5 405.4L225.0 412.1L224.4 418.8L223.8 425.4L224.0 432.1L224.3 438.8L225.6 445.5ZM243.6 432.1L238.7 425.4L236.8 418.8L235.7 412.1L234.9 405.4L235.6 398.7L237.6 392.0L241.0 385.3L246.4 378.6L251.6 372.5L256.7 378.6L260.7 385.3L262.6 392.0L263.2 398.7L262.5 405.4L260.8 412.1L259.0 418.8L257.0 425.4L254.3 432.1L251.6 438.1Z" fill="#e6dc32" stroke="#e6dc32" stroke-width="0.7" fill-rule="evenodd"/>
<path d="M450.5 546.0L467.0 546.0L475.4 539.3L479.0 535.2L484.1 539.3L498.9 546.0L507.4 546.0L519.7 546.0L513.1 539.3L507.4 533.4L506.3 532.6L502.5 525.9L496.1 519.2L494.0 512.5L492.4 505.8L491.2 499.1L490.2 492.4L489.4 485.7L486.6 479.0L483.6 472.3L480.6 465.6L479.0 463.0L477.8 465.6L475.4 472.3L472.8 479.0L470.7 485.7L470.6 492.4L470.6 499.1L470.6 505.8L470.5 512.5L470.5 519.2L464.2 525.9L458.3 532.6L453.6 539.3L450.5 544.5L449.8 546.0ZM592.6 540.9L594.8 546.0L605.8 546.0L603.4 539.3L601.2 532.6L598.8 525.9L598.5 519.2L600.7 512.5L602.8 505.8L605.7 499.1L608.2 492.4L610.0 485.7L611.4 479.0L612.6 472.3L613.8 465.6L614.9 458.9L615.9 452.2L616.2 445.5L616.5 438.8L615.6 432.1L613.6 425.4L610.9 418.8L607.3 412.1L603.0 405.4L597.1 398.7L592.6 395.1L589.2 398.7L584.3 405.4L580.3 412.1L576.5 418.8L573.7 425.4L571.6 432.1L570.0 438.8L568.9 445.5L567.9 452.2L567.4 458.9L566.9 465.6L566.2 472.3L567.5 479.0L569.0 485.7L570.8 492.4L573.4 499.1L576.8 505.8L579.7 512.5L583.0 519.2L583.7 525.9L582.0 532.6L580.8 539.3L579.5 546.0L590.5 546.0ZM587.2 499.1L582.8 492.4L579.9 485.7L577.9 479.0L576.0 472.3L575.6 465.6L575.2 458.9L575.0 452.2L576.3 445.5L577.9 438.8L580.5 432.1L583.6 425.4L587.8 418.8L592.6 412.6L598.1 418.8L602.6 425.4L606.0 432.1L608.1 438.8L608.8 445.5L609.2 452.2L608.0 458.9L606.6 465.6L605.2 472.3L603.6 479.0L601.9 485.7L599.7 492.4L596.3 499.1L592.6 505.4ZM734.7 514.7L735.6 512.5L737.9 505.8L740.4 499.1L743.2 492.4L746.2 485.7L749.6 479.0L753.5 472.3L757.8 465.6L762.6 458.9L763.2 458.4L763.2 452.2L763.2 445.5L763.2 438.8L763.2 432.1L763.2 425.4L763.2 419.8L757.2 425.4L749.0 432.1L739.8 438.8L734.7 443.5L727.8 445.5L716.0 452.2L706.3 458.9L705.5 452.2L704.7 445.5L703.8 438.8L703.0 432.1L702.3 425.4L701.6 418.8L701.0 412.1L701.4 405.4L701.8 398.7L702.3 392.0L702.8 385.3L703.3 378.6L703.8 371.9L704.4 365.2L705.0 358.5L704.8 351.8L704.5 345.1L704.3 338.4L704.0 331.7L704.0 325.0L703.9 318.3L703.9 311.6L703.9 304.9L703.7 298.2L703.5 291.5L703.3 284.8L703.1 278.1L702.8 271.4L702.4 264.7L702.0 258.0L699.8 251.3L699.8 244.6L699.8 237.9L699.8 231.2L699.8 224.5L699.8 217.8L699.8 211.1L699.8 204.4L699.8 197.7L699.8 191.0L699.8 184.3L699.8 177.6L699.8 170.9L677.9 170.9L674.3 170.9L674.3 177.6L674.3 184.3L674.3 191.0L674.3 197.7L674.3 204.4L674.3 211.1L674.2 217.8L674.2 224.5L674.2 231.2L674.2 237.9L674.2 244.6L674.2 251.3L677.9 258.0L677.9 258.0L680.7 264.7L683.1 271.4L685.0 278.1L686.7 284.8L688.1 291.5L689.3 298.2L690.4 304.9L690.5 311.6L690.6 318.3L690.9 325.0L691.2 331.7L691.4 338.4L691.6 345.1L691.8 351.8L692.0 358.5L691.7 365.2L691.5 371.9L691.3 378.6L691.1 385.3L690.8 392.0L690.7 398.7L690.5 405.4L690.3 412.1L690.7 418.8L691.1 425.4L691.6 432.1L692.0 438.8L693.0 445.5L694.0 452.2L695.0 458.9L696.6 465.6L698.4 472.3L700.3 479.0L702.2 485.7L704.3 492.4L706.3 498.7L707.7 499.1L720.3 505.8L730.9 512.5ZM251.6 438.1L254.3 432.1L257.0 425.4L259.0 418.8L260.8 412.1L262.5 405.4L263.2 398.7L262.6 392.0L260.7 385.3L256.7 378.6L251.6 372.5L246.4 378.6L241.0 385.3L237.6 392.0L235.6 398.7L234.9 405.4L235.7 412.1L236.8 418.8L238.7 425.4L243.6 432.1ZM249.2 418.8L246.5 412.1L244.4 405.4L244.8 398.7L247.6 392.0L250.9 385.3L251.6 384.4L252.2 385.3L254.8 392.0L256.5 398.7L256.3 405.4L254.6 412.1L252.8 418.8L251.6 422.7Z" fill="#e6af2d" stroke="#e6af2d" stroke-width="0.7" fill-rule="evenodd"/>
<path d="M479.0 546.0L498.9 546.0L484.1 539.3L479.0 535.2L475.4 539.3L467.0 546.0ZM592.6 546.0L594.8 546.0L592.6 540.9L590.5 546.0ZM592.6 505.4L596.3 499.1L599.7 492.4L601.9 485.7L603.6 479.0L605.2 472.3L606.6 465.6L608.0 458.9L609.2 452.2L608.8 445.5L608.1 438.8L606.0 432.1L602.6 425.4L598.1 418.8L592.6 412.6L587.8 418.8L583.6 425.4L580.5 432.1L577.9 438.8L576.3 445.5L575.0 452.2L575.2 458.9L575.6 465.6L576.0 472.3L577.9 479.0L579.9 485.7L582.8 492.4L587.2 499.1ZM590.9 485.7L588.3 479.0L585.9 472.3L584.4 465.6L583.1 458.9L582.1 452.2L583.7 445.5L585.9 438.8L589.3 432.1L592.6 426.8L596.3 432.1L599.8 438.8L601.5 445.5L602.5 452.2L601.1 458.9L599.4 465.6L597.7 472.3L595.9 479.0L593.9 485.7L592.6 488.9ZM706.3 458.9L716.0 452.2L727.8 445.5L734.7 443.5L739.8 438.8L749.0 432.1L757.2 425.4L763.2 419.8L763.2 418.8L763.2 412.1L763.2 405.4L763.2 398.7L763.2 392.0L763.2 385.3L763.2 378.6L763.2 371.9L763.2 365.2L763.2 358.5L763.2 351.8L763.2 345.1L763.2 338.4L763.2 331.7L763.2 325.0L763.2 318.3L763.2 311.6L763.2 304.9L763.2 298.2L763.2 291.5L763.2 284.8L763.2 278.1L763.2 271.4L763.2 264.7L763.2 258.0L763.2 251.3L763.2 244.6L763.2 237.9L763.2 231.2L763.2 224.5L763.2 217.8L763.2 211.1L763.2 204.4L763.2 197.7L763.2 191.0L763.2 184.3L763.2 177.6L763.2 170.9L755.9 170.9L755.9 177.6L755.9 184.3L755.9 191.0L755.9 197.7L755.9 204.4L755.9 211.1L755.9 217.8L755.9 224.5L755.9 231.2L755.9 237.9L755.9 244.6L755.9 251.3L755.9 258.0L755.9 264.7L755.9 271.4L755.9 278.1L755.9 284.8L755.9 291.5L755.9 298.2L755.9 304.9L755.9 311.6L755.9 318.3L755.9 325.0L755.9 331.7L755.9 338.4L755.9 345.1L755.9 351.8L755.9 358.5L755.9 365.2L755.9 371.9L755.9 378.6L755.9 385.3L752.1 392.0L747.4 398.7L741.2 405.4L734.7 410.9L726.9 405.4L722.2 398.7L719.6 392.0L718.0 385.3L718.5 378.6L719.0 371.9L719.4 365.2L719.8 358.5L719.6 351.8L719.5 345.1L719.3 338.4L719.1 331.7L719.1 325.0L719.1 318.3L719.1 311.6L719.1 304.9L719.1 298.2L719.1 291.5L719.1 284.8L719.1 278.1L719.1 271.4L719.1 264.7L719.1 258.0L719.1 251.3L719.1 244.6L719.1 237.9L719.1 231.2L719.1 224.5L719.1 217.8L719.1 211.1L719.1 204.4L719.1 197.7L719.1 191.0L719.1 184.3L719.1 177.6L719.1 170.9L706.3 170.9L699.8 170.9L699.8 177.6L699.8 184.3L699.8 191.0L699.8 197.7L699.8 204.4L699.8 211.1L699.8 217.8L699.8 224.5L699.8 231.2L699.8 237.9L699.8 244.6L699.8 251.3L702.0 258.0L702.4 264.7L702.8 271.4L703.1 278.1L703.3 284.8L703.5 291.5L703.7 298.2L703.9 304.9L703.9 311.6L703.9 318.3L704.0 325.0L704.0 331.7L704.3 338.4L704.5 345.1L704.8 351.8L705.0 358.5L704.4 365.2L703.8 371.9L703.3 378.6L702.8 385.3L702.3 392.0L701.8 398.7L701.4 405.4L701.0 412.1L701.6 418.8L702.3 425.4L703.0 432.1L703.8 438.8L704.7 445.5L705.5 452.2ZM251.6 422.7L252.8 418.8L254.6 412.1L256.3 405.4L256.5 398.7L254.8 392.0L252.2 385.3L251.6 384.4L250.9 385.3L247.6 392.0L244.8 398.7L244.4 405.4L246.5 412.1L249.2 418.8Z" fill="#f08228" stroke="#f08228" stroke-width="0.7" fill-rule="evenodd"/>
<path d="M592.6 488.9L593.9 485.7L595.9 479.0L597.7 472.3L599.4 465.6L601.1 458.9L602.5 452.2L601.5 445.5L599.8 438.8L596.3 432.1L592.6 426.8L589.3 432.1L585.9 438.8L583.7 445.5L582.1 452.2L583.1 458.9L584.4 465.6L585.9 472.3L588.3 479.0L590.9 485.7ZM590.9 458.9L589.2 452.2L591.2 445.5L592.6 441.6L594.1 445.5L595.9 452.2L594.2 458.9L592.6 464.4ZM734.7 410.9L741.2 405.4L747.4 398.7L752.1 392.0L755.9 385.3L755.9 378.6L755.9 371.9L755.9 365.2L755.9 358.5L755.9 351.8L755.9 345.1L755.9 338.4L755.9 331.7L755.9 325.0L755.9 318.3L755.9 311.6L755.9 304.9L755.9 298.2L755.9 291.5L755.9 284.8L755.9 278.1L755.9 271.4L755.9 264.7L755.9 258.0L755.9 251.3L755.9 244.6L755.9 237.9L755.9 231.2L755.9 224.5L755.9 217.8L755.9 211.1L755.9 204.4L755.9 197.7L755.9 191.0L755.9 184.3L755.9 177.6L755.9 170.9L734.7 170.9L719.1 170.9L719.1 177.6L719.1 184.3L719.1 191.0L719.1 197.7L719.1 204.4L719.1 211.1L719.1 217.8L719.1 224.5L719.1 231.2L719.1 237.9L719.1 244.6L719.1 251.3L719.1 258.0L719.1 264.7L719.1 271.4L719.1 278.1L719.1 284.8L719.1 291.5L719.1 298.2L719.1 304.9L719.1 311.6L719.1 318.3L719.1 325.0L719.1 331.7L719.3 338.4L719.5 345.1L719.6 351.8L719.8 358.5L719.4 365.2L719.0 371.9L718.5 378.6L718.0 385.3L719.6 392.0L722.2 398.7L726.9 405.4Z" fill="#fa3c3c" stroke="#fa3c3c" stroke-width="0.7" fill-rule="evenodd"/>
<path d="M592.6 464.4L594.2 458.9L595.9 452.2L594.1 445.5L592.6 441.6L591.2 445.5L589.2 452.2L590.9 458.9Z" fill="#f00082" stroke="#f00082" stroke-width="0.7" fill-rule="evenodd"/>
</g>
<g stroke="#9c9c9c" stroke-width="1" stroke-dasharray="2 4.5" fill="none" shape-rendering="crispEdges"><line x1="112" y1="519.5" x2="762" y2="519.5"/><line x1="112" y1="492.5" x2="762" y2="492.5"/><line x1="112" y1="466.5" x2="762" y2="466.5"/><line x1="112" y1="439.5" x2="762" y2="439.5"/><line x1="112" y1="412.5" x2="762" y2="412.5"/><line x1="112" y1="385.5" x2="762" y2="385.5"/><line x1="112" y1="358.5" x2="762" y2="358.5"/><line x1="112" y1="332.5" x2="762" y2="332.5"/><line x1="112" y1="305.5" x2="762" y2="305.5"/><line x1="112" y1="278.5" x2="762" y2="278.5"/><line x1="112" y1="251.5" x2="762" y2="251.5"/><line x1="112" y1="225.5" x2="762" y2="225.5"/><line x1="112" y1="198.5" x2="762" y2="198.5"/><line x1="112" y1="171.5" x2="762" y2="171.5"/><line x1="112" y1="144.5" x2="762" y2="144.5"/><line x1="112" y1="117.5" x2="762" y2="117.5"/><line x1="112" y1="91.5" x2="762" y2="91.5"/><line x1="112" y1="64.5" x2="762" y2="64.5"/><line x1="166.5" y1="40" x2="166.5" y2="545"/><line x1="251.5" y1="40" x2="251.5" y2="545"/><line x1="336.5" y1="40" x2="336.5" y2="545"/><line x1="422.5" y1="40" x2="422.5" y2="545"/><line x1="507.5" y1="40" x2="507.5" y2="545"/><line x1="592.5" y1="40" x2="592.5" y2="545"/><line x1="677.5" y1="40" x2="677.5" y2="545"/></g>
<g clip-path="url(#pl)" stroke="#000" stroke-width="1.15" fill="none" stroke-linecap="round" stroke-linejoin="round">
<path d="M109.5 452.2L132.7 462.5M125.7 462.7L132.7 462.5L128.1 457.3M109.5 465.6L125.2 474.1M118.2 473.7L125.2 474.1L121.0 468.5M109.5 479.0L119.7 484.3M112.7 484.0L119.7 484.3L115.4 478.8M109.5 492.4L109.5 495.9M106.5 489.6L109.5 495.9L112.5 489.6M109.5 505.8L109.5 509.0M106.5 502.7L109.5 509.0L112.5 502.7M109.5 519.2L109.5 521.2M106.5 514.9L109.5 521.2L112.5 514.9M109.5 532.6L109.5 534.6M106.5 528.3L109.5 534.6L112.5 528.3M109.5 546.0L110.0 549.0M106.0 543.2L110.0 549.0L111.9 542.3M137.9 425.4L164.3 428.7M157.7 430.9L164.3 428.7L158.4 425.0M137.9 438.8L161.3 443.0M154.6 444.8L161.3 443.0L155.6 439.0M137.9 452.2L157.9 458.6M151.0 459.5L157.9 458.6L152.8 453.9M137.9 465.6L155.3 473.8M148.3 473.8L155.3 473.8L150.8 468.5M137.9 479.0L151.9 485.3M144.9 485.4L151.9 485.3L147.3 480.0M137.9 492.4L147.3 497.8M140.3 497.2L147.3 497.8L143.3 492.1M137.9 505.8L141.3 509.2M134.7 506.8L141.3 509.2L138.9 502.6M137.9 519.2L137.9 520.2M135.0 513.9L137.9 520.2L140.9 513.9M137.9 532.6L138.9 533.6M132.3 531.2L138.9 533.6L136.5 527.0M137.9 546.0L137.9 547.5M135.0 541.2L137.9 547.5L140.9 541.2M166.3 412.1L185.8 414.1M179.2 416.3L185.8 414.1L179.8 410.5M166.3 425.4L183.5 431.1M176.6 432.0L183.5 431.1L178.4 426.3M166.3 438.8L182.8 445.7M175.8 446.0L182.8 445.7L178.1 440.6M166.3 452.2L182.3 460.6M175.3 460.3L182.3 460.6L178.1 455.1M166.3 465.6L180.5 475.3M173.6 474.2L180.5 475.3L177.0 469.3M166.3 479.0L179.0 486.8M172.1 486.0L179.0 486.8L175.2 481.0M166.3 492.4L173.0 499.1M166.5 496.7L173.0 499.1L170.6 492.5M166.3 505.8L168.3 510.3M163.1 505.7L168.3 510.3L168.5 503.3M166.3 519.2L166.6 520.7M162.5 515.1L166.6 520.7L168.3 513.9M166.3 532.6L169.6 533.8M162.7 534.4L169.6 533.8L164.7 528.9M194.8 425.4L214.0 432.1M207.0 432.9L214.0 432.1L208.9 427.3M194.8 438.8L213.2 445.7M206.2 446.3L213.2 445.7L208.3 440.7M194.8 452.2L212.8 460.2M205.8 460.4L212.8 460.2L208.2 455.0M194.8 465.6L212.8 474.1M205.8 474.1L212.8 474.1L208.3 468.7M194.8 479.0L212.8 488.6M205.8 488.3L212.8 488.6L208.6 483.0M194.8 492.4L210.2 502.1M203.2 501.2L210.2 502.1L206.4 496.2M194.8 505.8L206.5 513.8M199.6 512.7L206.5 513.8L202.9 507.8M194.8 519.2L202.8 523.0M195.8 523.0L202.8 523.0L198.3 517.6M194.8 532.6L202.8 533.8M196.0 535.8L202.8 533.8L196.9 529.9M194.8 546.0L199.8 545.5M193.7 549.1L199.8 545.5L193.2 543.2M223.2 398.7L232.9 400.8M226.1 402.3L232.9 400.8L227.3 396.5M223.2 412.1L234.2 412.8M227.7 415.3L234.2 412.8L228.0 409.4M223.2 425.4L234.2 426.9M227.5 429.0L234.2 426.9L228.3 423.2M223.2 438.8L235.9 439.3M229.4 442.0L235.9 439.3L229.7 436.1M223.2 452.2L236.7 452.9M230.2 455.6L236.7 452.9L230.5 449.7M223.2 465.6L237.4 466.8M230.8 469.2L237.4 466.8L231.3 463.3M223.2 479.0L235.6 481.1M228.8 483.0L235.6 481.1L229.8 477.2M223.2 492.4L232.2 495.8M225.2 496.3L232.2 495.8L227.3 490.8M223.2 505.8L228.4 508.5M221.4 508.2L228.4 508.5L224.1 503.0M223.2 519.2L227.7 521.2M220.7 521.3L227.7 521.2L223.1 515.9M223.2 532.6L227.7 534.6M220.7 534.7L227.7 534.6L223.1 529.3M223.2 546.0L223.2 547.0M220.2 540.7L223.2 547.0L226.1 540.7M251.6 385.3L264.3 388.7M257.4 389.9L264.3 388.7L258.9 384.2M251.6 398.7L262.8 400.7M256.0 402.5L262.8 400.7L257.1 396.6M251.6 412.1L262.8 412.1M256.5 415.0L262.8 412.1L256.5 409.1M251.6 452.2L262.8 449.7M257.3 454.0L262.8 449.7L256.0 448.2M251.6 465.6L262.1 463.6M256.4 467.7L262.1 463.6L255.3 461.9M251.6 479.0L259.8 479.0M253.5 482.0L259.8 479.0L253.5 476.1M251.6 492.4L255.6 494.4M248.6 494.2L255.6 494.4L251.2 488.9M251.6 505.8L252.6 508.3M247.5 503.5L252.6 508.3L253.0 501.3M251.6 519.2L252.0 521.6M248.0 515.8L252.0 521.6L253.9 514.9M251.6 532.6L253.1 534.1M246.5 531.7L253.1 534.1L250.7 527.5M251.6 546.0L251.1 547.0M251.3 540.0L251.1 547.0L256.6 542.6M280.0 385.3L289.1 381.3M284.5 386.5L289.1 381.3L282.1 381.1M280.0 398.7L288.7 395.4M283.8 400.4L288.7 395.4L281.7 394.8M280.0 412.1L290.6 410.6M284.8 414.4L290.6 410.6L283.9 408.5M280.0 425.4L290.6 426.1M284.1 428.7L290.6 426.1L284.5 422.8M280.0 438.8L292.0 440.3M285.4 442.5L292.0 440.3L286.1 436.6M280.0 452.2L290.6 453.7M283.9 455.8L290.6 453.7L284.8 449.9M280.0 465.6L289.0 467.6M282.2 469.1L289.0 467.6L283.5 463.4M280.0 479.0L284.6 482.6M277.8 481.0L284.6 482.6L281.4 476.4M280.0 492.4L280.5 495.1M276.5 489.4L280.5 495.1L282.3 488.3M280.0 505.8L280.5 508.5M276.5 502.8L280.5 508.5L282.3 501.7M280.0 519.2L279.5 520.2M279.7 513.2L279.5 520.2L285.0 515.9M280.0 532.6L281.6 532.6M275.3 535.6L281.6 532.6L275.3 529.6M280.0 546.0L279.5 547.0M279.7 540.0L279.5 547.0L285.0 542.6M308.4 371.9L324.6 377.6M317.7 378.3L324.6 377.6L319.6 372.7M308.4 385.3L324.6 388.7M317.8 390.3L324.6 388.7L319.0 384.5M308.4 398.7L322.0 402.6M315.1 403.7L322.0 402.6L316.8 398.0M308.4 412.1L317.5 416.6M310.5 416.4L317.5 416.6L313.2 411.1M308.4 425.4L312.3 431.4M306.4 427.7L312.3 431.4L311.4 424.5M308.4 438.8L311.1 441.8M304.7 439.1L311.1 441.8L309.1 435.1M308.4 452.2L309.4 454.2M304.0 449.9L309.4 454.2L309.2 447.2M308.4 465.6L309.4 466.1M302.4 465.9L309.4 466.1L305.1 460.6M308.4 479.0L310.0 479.0M303.7 482.0L310.0 479.0L303.7 476.1M305.5 486.6L308.4 492.9L311.4 486.6M308.4 505.8L307.8 507.3M307.4 500.3L307.8 507.3L312.9 502.5M308.4 519.2L307.8 520.7M307.4 513.7L307.8 520.7L312.9 515.9M308.4 532.6L309.4 532.2M304.6 537.3L309.4 532.2L302.5 531.8M336.9 465.6L340.9 467.6M333.9 467.4L340.9 467.6L336.5 462.1M336.9 479.0L340.9 480.6M333.9 481.0L340.9 480.6L336.1 475.5M336.9 492.4L337.7 494.4M332.6 489.6L337.7 494.4L338.1 487.4M336.9 505.8L336.9 507.2M333.9 500.9L336.9 507.2L339.8 500.9M336.9 519.2L336.4 520.2M336.6 513.2L336.4 520.2L341.8 515.9M336.9 532.6L338.1 532.9M331.2 534.2L338.1 532.9L332.6 528.5M336.9 546.0L336.4 547.0M336.6 540.0L336.4 547.0L341.8 542.6M365.3 505.8L355.8 506.2M362.0 503.0L355.8 506.2L362.2 508.9M393.7 492.4L395.3 494.4M389.0 491.3L395.3 494.4L393.6 487.6M393.7 505.8L396.2 505.8M389.9 508.8L396.2 505.8L389.9 502.9M393.7 519.2L393.7 521.6M390.7 515.3L393.7 521.6L396.7 515.3M393.7 532.6L394.9 533.2M387.9 533.0L394.9 533.2L390.5 527.7M393.7 546.0L393.7 547.0M390.7 540.7L393.7 547.0L396.7 540.7M422.1 492.4L422.9 493.8M417.2 489.8L422.9 493.8L422.3 486.8M422.1 505.8L422.1 507.2M419.2 500.9L422.1 507.2L425.1 500.9M422.1 519.2L422.1 522.2M419.2 515.9L422.1 522.2L425.1 515.9M422.1 546.0L422.1 547.0M419.2 540.7L422.1 547.0L425.1 540.7M450.5 479.0L451.9 480.8M445.7 477.6L451.9 480.8L450.4 474.0M450.5 492.4L451.9 493.4M445.1 492.1L451.9 493.4L448.5 487.3M450.5 505.8L450.5 508.3M447.6 502.0L450.5 508.3L453.5 502.0M450.5 519.2L450.5 520.4M447.6 514.1L450.5 520.4L453.5 514.1M450.5 532.6L452.8 533.1M446.0 534.6L452.8 533.1L447.3 528.9M450.5 546.0L451.0 545.0M450.8 552.0L451.0 545.0L445.6 549.4M479.0 492.4L480.0 495.2M475.0 490.2L480.0 495.2L480.6 488.3M479.0 505.8L478.3 508.8M476.8 502.0L478.3 508.8L482.6 503.3M479.0 519.2L481.0 519.9M474.0 520.6L481.0 519.9L475.9 515.0M479.0 532.6L485.7 533.6M478.9 535.6L485.7 533.6L479.8 529.7M479.0 546.0L482.0 546.0M475.6 549.0L482.0 546.0L475.6 543.0M507.4 425.4L511.3 436.4M506.4 431.5L511.3 436.4L511.9 429.5M507.4 438.8L511.9 446.5M506.1 442.6L511.9 446.5L511.2 439.6M507.4 452.2L511.8 458.7M505.8 455.1L511.8 458.7L510.7 451.8M507.4 465.6L511.4 471.1M505.3 467.7L511.4 471.1L510.0 464.3M507.4 479.0L509.9 483.0M504.0 479.2L509.9 483.0L509.0 476.1M507.4 492.4L509.4 496.4M503.9 492.1L509.4 496.4L509.2 489.4M507.4 505.8L509.4 509.2M503.6 505.2L509.4 509.2L508.7 502.2M507.4 519.2L508.8 519.9M501.8 519.7L508.8 519.9L504.4 514.4M507.4 532.6L511.1 533.1M504.4 535.2L511.1 533.1L505.2 529.3M507.4 546.0L508.4 545.0M506.0 551.6L508.4 545.0L501.8 547.4M535.8 438.8L542.3 450.5M536.6 446.4L542.3 450.5L541.8 443.6M535.8 452.2L540.3 461.7M534.9 457.3L540.3 461.7L540.3 454.7M535.8 465.6L539.3 471.4M533.5 467.5L539.3 471.4L538.6 464.5M535.8 479.0L537.4 481.8M531.7 477.8L537.4 481.8L536.8 474.9M535.8 492.4L536.8 493.4M530.2 491.0L536.8 493.4L534.4 486.8M535.8 505.8L536.8 504.8M534.4 511.4L536.8 504.8L530.2 507.2M535.8 519.2L536.8 520.2M530.2 517.8L536.8 520.2L534.4 513.6M535.8 532.6L538.5 533.1M531.7 534.9L538.5 533.1L532.8 529.0M564.2 371.9L579.2 381.1M572.3 380.3L579.2 381.1L575.4 375.2M564.2 385.3L576.2 393.1M569.3 392.1L576.2 393.1L572.5 387.1M564.2 398.7L576.2 405.7M569.2 405.0L576.2 405.7L572.2 399.9M564.2 412.1L575.2 417.5M568.2 417.3L575.2 417.5L570.8 412.0M564.2 425.4L574.2 427.8M567.4 429.2L574.2 427.8L568.7 423.5M564.2 438.8L573.8 440.2M567.1 442.3L573.8 440.2L568.0 436.4M564.2 452.2L573.8 453.6M567.1 455.6L573.8 453.6L568.0 449.8M564.2 465.6L572.6 466.6M566.0 468.8L572.6 466.6L566.7 462.9M564.2 479.0L572.6 479.0M566.3 482.0L572.6 479.0L566.3 476.1M564.2 492.4L570.2 492.4M563.9 495.4L570.2 492.4L563.9 489.5M564.2 505.8L568.6 505.4M562.6 508.9L568.6 505.4L562.0 503.0M564.2 519.2L567.8 518.2M562.5 522.8L567.8 518.2L560.9 517.1M564.2 532.6L567.8 533.4M561.0 534.9L567.8 533.4L562.3 529.1M592.6 385.3L606.5 391.5M599.5 391.6L606.5 391.5L602.0 386.2M592.6 398.7L606.5 405.1M599.5 405.1L606.5 405.1L602.0 399.7M592.6 412.1L606.1 418.1M599.1 418.2L606.1 418.1L601.5 412.8M592.6 425.4L606.9 427.8M600.2 429.7L606.9 427.8L601.2 423.9M592.6 438.8L606.1 440.8M599.4 442.8L606.1 440.8L600.3 437.0M592.6 452.2L606.1 454.4M599.4 456.3L606.1 454.4L600.4 450.5M592.6 465.6L606.1 467.2M599.5 469.4L606.1 467.2L600.2 463.5M592.6 479.0L606.9 479.8M600.4 482.4L606.9 479.8L600.8 476.5M592.6 492.4L606.1 492.8M599.7 495.6L606.1 492.8L599.9 489.7M592.6 505.8L602.0 504.8M596.0 508.4L602.0 504.8L595.4 502.5M592.6 519.2L600.0 517.2M594.7 521.7L600.0 517.2L593.1 516.0M592.6 532.6L598.8 532.4M592.6 535.6L598.8 532.4L592.4 529.7M592.6 546.0L594.6 547.0M587.6 546.8L594.6 547.0L590.3 541.5M621.1 318.3L630.5 332.3M624.5 328.7L630.5 332.3L629.4 325.4M621.1 331.7L628.1 344.7M622.4 340.5L628.1 344.7L627.7 337.7M621.1 345.1L625.7 358.9M620.8 353.8L625.7 358.9L626.5 351.9M621.1 358.5L624.5 370.1M619.8 364.8L624.5 370.1L625.5 363.2M621.1 371.9L626.1 382.1M620.6 377.7L626.1 382.1L625.9 375.1M621.1 385.3L626.1 393.1M620.1 389.3L626.1 393.1L625.1 386.1M621.1 398.7L626.1 405.1M619.8 401.9L626.1 405.1L624.5 398.2M621.1 412.1L625.5 417.1M619.0 414.2L625.5 417.1L623.5 410.3M621.1 425.4L623.5 428.2M617.1 425.4L623.5 428.2L621.6 421.5M621.1 438.8L623.5 436.2M621.3 442.9L623.5 436.2L617.0 438.9M621.1 452.2L623.1 449.7M621.4 456.5L623.1 449.7L616.8 452.8M621.1 465.6L621.4 462.2M623.7 468.8L621.4 462.2L617.9 468.3M621.1 479.0L622.3 479.0M615.9 482.0L622.3 479.0L615.9 476.1M621.1 492.4L622.6 487.4M623.6 494.3L622.6 487.4L617.9 492.6M626.9 502.9L620.6 505.8L626.9 508.8M621.1 519.2L620.8 518.2M625.4 523.4L620.8 518.2L619.7 525.1M621.1 532.6L620.8 531.6M625.4 536.8L620.8 531.6L619.7 538.5M649.5 304.9L649.9 321.6M646.8 315.3L649.9 321.6L652.7 315.2M649.5 318.3L649.7 332.8M646.6 326.5L649.7 332.8L652.6 326.4M649.5 331.7L649.5 342.7M646.5 336.3L649.5 342.7L652.4 336.3M649.5 345.1L649.2 355.9M646.4 349.5L649.2 355.9L652.3 349.6M649.5 358.5L648.9 369.1M646.3 362.6L648.9 369.1L652.2 362.9M649.5 371.9L648.5 382.1M646.2 375.5L648.5 382.1L652.0 376.0M649.5 385.3L647.9 394.1M646.1 387.3L647.9 394.1L651.9 388.4M649.5 398.7L647.1 406.1M646.2 399.1L647.1 406.1L651.9 400.9M649.5 412.1L646.7 418.1M646.7 411.1L646.7 418.1L652.0 413.6M649.5 425.4L648.1 429.8M647.2 422.9L648.1 429.8L652.8 424.7M649.5 438.8L648.5 443.8M646.8 437.0L648.5 443.8L652.6 438.2M649.5 452.2L648.9 457.0M646.7 450.4L648.9 457.0L652.6 451.1M649.5 465.6L648.9 470.6M646.7 464.0L648.9 470.6L652.6 464.7M649.5 479.0L648.1 482.2M647.9 475.2L648.1 482.2L653.3 477.6M649.5 492.4L648.5 494.0M649.3 487.1L648.5 494.0L654.4 490.2M649.5 505.8L648.5 507.4M649.3 500.5L648.5 507.4L654.4 503.6M649.5 519.2L648.5 520.2M650.9 513.6L648.5 520.2L655.1 517.8M649.5 532.6L648.0 532.6M654.3 529.6L648.0 532.6L654.3 535.6M677.9 291.5L680.7 321.2M677.2 315.2L680.7 321.2L683.0 314.6M677.9 304.9L681.2 330.9M677.5 325.0L681.2 330.9L683.3 324.2M677.9 318.3L680.8 341.9M677.1 336.0L680.8 341.9L683.0 335.2M677.9 331.7L678.6 353.7M675.4 347.4L678.6 353.7L681.4 347.2M677.9 345.1L676.5 363.8M674.0 357.2L676.5 363.8L679.9 357.7M677.9 358.5L675.4 375.5M673.4 368.8L675.4 375.5L679.2 369.6M677.9 371.9L674.9 387.5M673.2 380.7L674.9 387.5L679.0 381.8M677.9 385.3L674.9 400.5M673.2 393.7L674.9 400.5L679.0 394.8M677.9 398.7L674.9 412.6M673.3 405.7L674.9 412.6L679.1 407.0M677.9 412.1L674.9 423.4M673.7 416.5L674.9 423.4L679.4 418.0M677.9 425.4L674.9 434.3M674.1 427.4L674.9 434.3L679.7 429.3M677.9 438.8L674.9 446.7M674.4 439.8L674.9 446.7L679.9 441.9M677.9 452.2L674.5 458.8M674.8 451.8L674.5 458.8L680.0 454.6M677.9 465.6L673.7 472.5M674.5 465.6L673.7 472.5L679.5 468.7M677.9 479.0L672.0 484.7M674.5 478.2L672.0 484.7L678.6 482.4M677.9 492.4L673.9 495.8M676.8 489.5L673.9 495.8L680.6 494.0M677.9 505.8L676.9 508.0M676.8 501.0L676.9 508.0L682.2 503.5M677.9 519.2L677.4 520.9M676.4 514.0L677.4 520.9L682.0 515.7M677.9 532.6L674.5 534.1M679.1 528.8L674.5 534.1L681.5 534.3M706.3 358.5L711.1 386.5M707.1 380.7L711.1 386.5L713.0 379.7M706.3 371.9L709.6 397.3M705.9 391.4L709.6 397.3L711.7 390.6M706.3 385.3L708.3 408.7M704.8 402.6L708.3 408.7L710.7 402.1M706.3 398.7L706.3 422.7M703.4 416.3L706.3 422.7L709.3 416.3M706.3 412.1L706.3 433.0M703.4 426.6L706.3 433.0L709.3 426.6M706.3 425.4L705.9 445.3M703.1 438.9L705.9 445.3L709.0 439.1M706.3 438.8L705.9 457.7M703.1 451.3L705.9 457.7L709.0 451.5M706.3 452.2L705.7 469.9M703.0 463.5L705.7 469.9L708.9 463.7M706.3 465.6L705.7 481.1M703.0 474.7L705.7 481.1L708.9 474.9M706.3 479.0L705.7 492.0M703.1 485.6L705.7 492.0L709.0 485.8M706.3 492.4L705.7 503.2M703.1 496.7L705.7 503.2L709.0 497.1M706.3 505.8L705.3 514.2M703.1 507.6L705.3 514.2L709.0 508.3M706.3 519.2L705.3 525.3M703.4 518.6L705.3 525.3L709.3 519.5M706.3 532.6L705.3 536.6M704.0 529.7L705.3 536.6L709.7 531.2M706.3 546.0L705.3 549.0M704.5 542.0L705.3 549.0L710.1 543.9M734.7 412.1L736.9 439.1M733.5 433.0L736.9 439.1L739.4 432.5M734.7 425.4L736.4 450.2M733.1 444.1L736.4 450.2L739.0 443.7M734.7 438.8L735.9 461.4M732.6 455.3L735.9 461.4L738.6 455.0M734.7 452.2L735.9 472.4M732.6 466.3L735.9 472.4L738.5 465.9M734.7 465.6L735.4 482.3M732.2 476.1L735.4 482.3L738.1 475.9M734.7 479.0L735.2 492.0M732.0 485.8L735.2 492.0L738.0 485.6M734.7 492.4L735.2 502.0M732.0 495.8L735.2 502.0L737.9 495.5M734.7 505.8L735.2 512.9M731.8 506.8L735.2 512.9L737.7 506.4M734.7 519.2L735.2 525.3M731.8 519.2L735.2 525.3L737.7 518.7M734.7 532.6L735.2 537.3M731.6 531.3L735.2 537.3L737.5 530.7M734.7 546.0L735.2 549.0M731.3 543.2L735.2 549.0L737.1 542.3M763.2 452.2L762.7 460.2M760.1 453.7L762.7 460.2L766.0 454.1M763.2 465.6L762.7 475.6M760.0 469.1L762.7 475.6L765.9 469.4M763.2 479.0L762.7 488.0M760.1 481.5L762.7 488.0L766.0 481.9M763.2 492.4L762.7 500.4M760.1 493.9L762.7 500.4L766.0 494.3M763.2 505.8L762.7 512.8M760.2 506.3L762.7 512.8L766.1 506.7M763.2 519.2L762.7 524.2M760.3 517.6L762.7 524.2L766.2 518.2M763.2 532.6L762.7 536.6M760.5 529.9L762.7 536.6L766.4 530.7"/>
</g>
<rect x="109" y="37" width="654" height="509" fill="none" stroke="#000" stroke-width="2"/>
<line x1="105" y1="546.5" x2="108" y2="546.5" stroke="#000" stroke-width="1"/>
<text x="102.5" y="550.6" text-anchor="end" font-size="11.5" letter-spacing="-0.3">40</text>
<line x1="105" y1="519.7" x2="108" y2="519.7" stroke="#000" stroke-width="1"/>
<text x="102.5" y="523.8" text-anchor="end" font-size="11.5" letter-spacing="-0.3">80</text>
<line x1="105" y1="492.9" x2="108" y2="492.9" stroke="#000" stroke-width="1"/>
<text x="102.5" y="497.0" text-anchor="end" font-size="11.5" letter-spacing="-0.3">120</text>
<line x1="105" y1="466.1" x2="108" y2="466.1" stroke="#000" stroke-width="1"/>
<text x="102.5" y="470.2" text-anchor="end" font-size="11.5" letter-spacing="-0.3">160</text>
<line x1="105" y1="439.3" x2="108" y2="439.3" stroke="#000" stroke-width="1"/>
<text x="102.5" y="443.4" text-anchor="end" font-size="11.5" letter-spacing="-0.3">200</text>
<line x1="105" y1="412.6" x2="108" y2="412.6" stroke="#000" stroke-width="1"/>
<text x="102.5" y="416.7" text-anchor="end" font-size="11.5" letter-spacing="-0.3">240</text>
<line x1="105" y1="385.8" x2="108" y2="385.8" stroke="#000" stroke-width="1"/>
<text x="102.5" y="389.9" text-anchor="end" font-size="11.5" letter-spacing="-0.3">280</text>
<line x1="105" y1="359.0" x2="108" y2="359.0" stroke="#000" stroke-width="1"/>
<text x="102.5" y="363.1" text-anchor="end" font-size="11.5" letter-spacing="-0.3">320</text>
<line x1="105" y1="332.2" x2="108" y2="332.2" stroke="#000" stroke-width="1"/>
<text x="102.5" y="336.3" text-anchor="end" font-size="11.5" letter-spacing="-0.3">360</text>
<line x1="105" y1="305.4" x2="108" y2="305.4" stroke="#000" stroke-width="1"/>
<text x="102.5" y="309.5" text-anchor="end" font-size="11.5" letter-spacing="-0.3">400</text>
<line x1="105" y1="278.6" x2="108" y2="278.6" stroke="#000" stroke-width="1"/>
<text x="102.5" y="282.7" text-anchor="end" font-size="11.5" letter-spacing="-0.3">440</text>
<line x1="105" y1="251.8" x2="108" y2="251.8" stroke="#000" stroke-width="1"/>
<text x="102.5" y="255.9" text-anchor="end" font-size="11.5" letter-spacing="-0.3">480</text>
<line x1="105" y1="225.0" x2="108" y2="225.0" stroke="#000" stroke-width="1"/>
<text x="102.5" y="229.1" text-anchor="end" font-size="11.5" letter-spacing="-0.3">520</text>
<line x1="105" y1="198.2" x2="108" y2="198.2" stroke="#000" stroke-width="1"/>
<text x="102.5" y="202.3" text-anchor="end" font-size="11.5" letter-spacing="-0.3">560</text>
<line x1="105" y1="171.4" x2="108" y2="171.4" stroke="#000" stroke-width="1"/>
<text x="102.5" y="175.5" text-anchor="end" font-size="11.5" letter-spacing="-0.3">600</text>
<line x1="105" y1="144.7" x2="108" y2="144.7" stroke="#000" stroke-width="1"/>
<text x="102.5" y="148.8" text-anchor="end" font-size="11.5" letter-spacing="-0.3">640</text>
<line x1="105" y1="117.9" x2="108" y2="117.9" stroke="#000" stroke-width="1"/>
<text x="102.5" y="122.0" text-anchor="end" font-size="11.5" letter-spacing="-0.3">680</text>
<line x1="105" y1="91.1" x2="108" y2="91.1" stroke="#000" stroke-width="1"/>
<text x="102.5" y="95.2" text-anchor="end" font-size="11.5" letter-spacing="-0.3">720</text>
<line x1="105" y1="64.3" x2="108" y2="64.3" stroke="#000" stroke-width="1"/>
<text x="102.5" y="68.4" text-anchor="end" font-size="11.5" letter-spacing="-0.3">760</text>
<line x1="105" y1="37.5" x2="108" y2="37.5" stroke="#000" stroke-width="1"/>
<text x="102.5" y="41.6" text-anchor="end" font-size="11.5" letter-spacing="-0.3">800</text>
<line x1="166.6" y1="547" x2="166.6" y2="550" stroke="#000" stroke-width="1"/>
<text x="166.8" y="560" text-anchor="middle" font-size="10.5" letter-spacing="-0.2">03Z</text>
<line x1="251.9" y1="547" x2="251.9" y2="550" stroke="#000" stroke-width="1"/>
<text x="252.1" y="560" text-anchor="middle" font-size="10.5" letter-spacing="-0.2">06Z</text>
<line x1="337.2" y1="547" x2="337.2" y2="550" stroke="#000" stroke-width="1"/>
<text x="337.4" y="560" text-anchor="middle" font-size="10.5" letter-spacing="-0.2">09Z</text>
<line x1="422.4" y1="547" x2="422.4" y2="550" stroke="#000" stroke-width="1"/>
<text x="422.6" y="560" text-anchor="middle" font-size="10.5" letter-spacing="-0.2">12Z</text>
<line x1="507.7" y1="547" x2="507.7" y2="550" stroke="#000" stroke-width="1"/>
<text x="507.9" y="560" text-anchor="middle" font-size="10.5" letter-spacing="-0.2">15Z</text>
<line x1="592.9" y1="547" x2="592.9" y2="550" stroke="#000" stroke-width="1"/>
<text x="593.1" y="560" text-anchor="middle" font-size="10.5" letter-spacing="-0.2">18Z</text>
<line x1="678.2" y1="547" x2="678.2" y2="550" stroke="#000" stroke-width="1"/>
<text x="678.4" y="560" text-anchor="middle" font-size="10.5" letter-spacing="-0.2">21Z</text>
<line x1="763.5" y1="547" x2="763.5" y2="550" stroke="#000" stroke-width="1"/>
<text x="763.7" y="560" text-anchor="middle" font-size="10.5" letter-spacing="-0.2">00Z</text>
<text x="166.5" y="571.3" text-anchor="middle" font-size="10.5" letter-spacing="-0.5">4JUN</text>
<text x="166.5" y="582.5" text-anchor="middle" font-size="10.5" letter-spacing="-0.1">2016</text>
<text x="764" y="571.3" text-anchor="middle" font-size="10.5" letter-spacing="-0.5">5JUN</text>
<path d="M653 -3L803 -3L803 147Z" fill="#fff"/>
<line x1="655.2" y1="0" x2="800" y2="144.8" stroke="#000" stroke-width="1.8"/>
<path d="M720.05 -2.69A80 80 0 0 0 720.36 7.53L760.18 3.76A40 40 0 0 1 760.02 -1.35Z" fill="#f00082"/>
<path d="M720.36 7.53A80 80 0 0 0 721.97 17.63L760.98 8.81A40 40 0 0 1 760.18 3.76Z" fill="#fa3c3c"/>
<path d="M721.97 17.63A80 80 0 0 0 724.85 27.44L762.43 13.72A40 40 0 0 1 760.98 8.81Z" fill="#f08228"/>
<path d="M724.85 27.44A80 80 0 0 0 728.97 36.80L764.48 18.40A40 40 0 0 1 762.43 13.72Z" fill="#e6af2d"/>
<path d="M728.97 36.80A80 80 0 0 0 734.24 45.57L767.12 22.78A40 40 0 0 1 764.48 18.40Z" fill="#e6dc32"/>
<path d="M734.24 45.57A80 80 0 0 0 740.60 53.58L770.30 26.79A40 40 0 0 1 767.12 22.78Z" fill="#a0e632"/>
<path d="M740.60 53.58A80 80 0 0 0 747.92 60.72L773.96 30.36A40 40 0 0 1 770.30 26.79Z" fill="#00dc00"/>
<path d="M747.92 60.72A80 80 0 0 0 756.09 66.87L778.04 33.44A40 40 0 0 1 773.96 30.36Z" fill="#00d28c"/>
<path d="M756.09 66.87A80 80 0 0 0 764.98 71.93L782.49 35.96A40 40 0 0 1 778.04 33.44Z" fill="#00c8c8"/>
<path d="M764.98 71.93A80 80 0 0 0 774.44 75.81L787.22 37.90A40 40 0 0 1 782.49 35.96Z" fill="#00a0ff"/>
<path d="M774.44 75.81A80 80 0 0 0 784.32 78.45L792.16 39.22A40 40 0 0 1 787.22 37.90Z" fill="#1e3cff"/>
<path d="M784.32 78.45A80 80 0 0 0 794.46 79.81L797.23 39.90A40 40 0 0 1 792.16 39.22Z" fill="#8200dc"/>
<path d="M794.46 79.81A80 80 0 0 0 804.69 79.86L802.34 39.93A40 40 0 0 1 797.23 39.90Z" fill="#a000c8"/>
<line x1="760.18" y1="3.76" x2="720.36" y2="7.53" stroke="#fff" stroke-width="0.8"/>
<line x1="760.98" y1="8.81" x2="721.97" y2="17.63" stroke="#fff" stroke-width="0.8"/>
<line x1="762.43" y1="13.72" x2="724.85" y2="27.44" stroke="#fff" stroke-width="0.8"/>
<line x1="764.48" y1="18.40" x2="728.97" y2="36.80" stroke="#fff" stroke-width="0.8"/>
<line x1="767.12" y1="22.78" x2="734.24" y2="45.57" stroke="#fff" stroke-width="0.8"/>
<line x1="770.30" y1="26.79" x2="740.60" y2="53.58" stroke="#fff" stroke-width="0.8"/>
<line x1="773.96" y1="30.36" x2="747.92" y2="60.72" stroke="#fff" stroke-width="0.8"/>
<line x1="778.04" y1="33.44" x2="756.09" y2="66.87" stroke="#fff" stroke-width="0.8"/>
<line x1="782.49" y1="35.96" x2="764.98" y2="71.93" stroke="#fff" stroke-width="0.8"/>
<line x1="787.22" y1="37.90" x2="774.44" y2="75.81" stroke="#fff" stroke-width="0.8"/>
<line x1="792.16" y1="39.22" x2="784.32" y2="78.45" stroke="#fff" stroke-width="0.8"/>
<line x1="797.23" y1="39.90" x2="794.46" y2="79.81" stroke="#fff" stroke-width="0.8"/>
<text transform="translate(718.36 7.72) rotate(-5.40)" text-anchor="end" dy="4.5" font-size="10.5" letter-spacing="-0.2">22.5</text>
<text transform="translate(720.02 18.07) rotate(-12.73)" text-anchor="end" dy="4.5" font-size="10.5" letter-spacing="-0.2">22</text>
<text transform="translate(722.97 28.13) rotate(-20.06)" text-anchor="end" dy="4.5" font-size="10.5" letter-spacing="-0.2">21.5</text>
<text transform="translate(727.19 37.72) rotate(-27.39)" text-anchor="end" dy="4.5" font-size="10.5" letter-spacing="-0.2">21</text>
<text transform="translate(732.60 46.70) rotate(-34.72)" text-anchor="end" dy="4.5" font-size="10.5" letter-spacing="-0.2">20.5</text>
<text transform="translate(739.11 54.92) rotate(-42.05)" text-anchor="end" dy="4.5" font-size="10.5" letter-spacing="-0.2">20</text>
<text transform="translate(746.61 62.24) rotate(-49.38)" text-anchor="end" dy="4.5" font-size="10.5" letter-spacing="-0.2">19.5</text>
<text transform="translate(754.99 68.54) rotate(-56.71)" text-anchor="end" dy="4.5" font-size="10.5" letter-spacing="-0.2">19</text>
<text transform="translate(764.11 73.73) rotate(-64.04)" text-anchor="end" dy="4.5" font-size="10.5" letter-spacing="-0.2">18.5</text>
<text transform="translate(773.80 77.70) rotate(-71.37)" text-anchor="end" dy="4.5" font-size="10.5" letter-spacing="-0.2">18</text>
<text transform="translate(783.93 80.41) rotate(-78.70)" text-anchor="end" dy="4.5" font-size="10.5" letter-spacing="-0.2">17.5</text>
<text transform="translate(794.32 81.80) rotate(-86.03)" text-anchor="end" dy="4.5" font-size="10.5" letter-spacing="-0.2">17</text>
<text x="778" y="18.9" font-size="10.5">°C</text>
<text x="146.8" y="21.2" font-size="15.3" textLength="52.8" lengthAdjust="spacingAndGlyphs">SODAR</text>
<text x="217.7" y="21.2" font-size="15.3" textLength="9.0" lengthAdjust="spacingAndGlyphs">–</text>
<text x="236.8" y="21.2" font-size="15.3" textLength="62.0" lengthAdjust="spacingAndGlyphs">Paulinia</text>
<text x="313.5" y="21.2" font-size="15.3" textLength="9.0" lengthAdjust="spacingAndGlyphs">–</text>
<text x="333.8" y="21.2" font-size="15.3" textLength="106.9" lengthAdjust="spacingAndGlyphs">Temperatura</text>
<text x="451.2" y="21.2" font-size="15.3" textLength="33.8" lengthAdjust="spacingAndGlyphs">(°C)</text>
<text x="495.5" y="21.2" font-size="15.3" textLength="7.0" lengthAdjust="spacingAndGlyphs">e</text>
<text x="513.8" y="21.2" font-size="15.3" textLength="45.8" lengthAdjust="spacingAndGlyphs">Vento</text>
<text x="572.5" y="21.2" font-size="15.3" textLength="51.2" lengthAdjust="spacingAndGlyphs">(m/s)</text>
<text transform="translate(72 340) rotate(-90)" font-size="17.5" textLength="50.7" lengthAdjust="spacingAndGlyphs" stroke="#000" stroke-width="0.2">Altura</text>
<text transform="translate(72 278.7) rotate(-90)" font-size="17.5" textLength="34.7" lengthAdjust="spacingAndGlyphs" stroke="#000" stroke-width="0.2">(m)</text>
<text x="381.6" y="587.8" font-size="18" textLength="40.8" lengthAdjust="spacingAndGlyphs" stroke="#000" stroke-width="0.2">Hora</text>
<text x="435" y="587.8" font-size="18" textLength="56" lengthAdjust="spacingAndGlyphs" stroke="#000" stroke-width="0.2">(local)</text>
<g stroke="#000" stroke-width="1" fill="none"><path d="M618 582.6H655.5M647.8 579L655.5 582.6L647.8 586.2"/></g>
<text x="628.5" y="598.6" font-size="14.5" letter-spacing="1.2">10</text>
<text x="654.5" y="598.3" font-size="10.5" letter-spacing="0.6">m/s</text>
<text x="3.5" y="616" font-size="9.5" textLength="84" lengthAdjust="spacing">GrADS: COLA/IGES</text>
</svg>
</body></html>
